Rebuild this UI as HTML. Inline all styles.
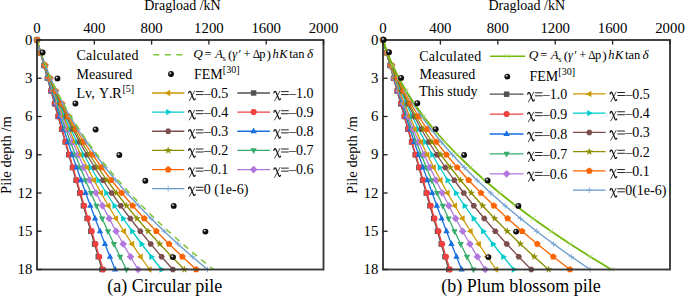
<!DOCTYPE html>
<html><head><meta charset="utf-8"><style>
html,body{margin:0;padding:0;background:#fff;width:685px;height:296px;overflow:hidden;font-family:"Liberation Serif",serif;}
svg{display:block}
</style></head><body>
<svg width="685" height="296" viewBox="0 0 685 296"><defs><radialGradient id="bg" cx="0.38" cy="0.36" r="0.7"><stop offset="0" stop-color="#eee"/><stop offset="0.12" stop-color="#bbb"/><stop offset="0.34" stop-color="#1a1a1a"/><stop offset="1" stop-color="#000"/></radialGradient></defs><rect width="685" height="296" fill="#fff"/><polyline points="37.00,40.00 40.47,52.75 43.95,65.50 47.45,78.25 50.96,91.00 54.50,103.75 58.05,116.50 61.62,129.25 65.20,142.00 68.81,154.75 72.43,167.50 76.06,180.25 79.72,193.00 83.39,205.75 87.08,218.50 90.79,231.25 94.51,244.00 98.25,256.75 102.01,269.50" fill="none" stroke="#515151" stroke-width="1.3"/>
<rect x="34.28" y="37.28" width="5.44" height="5.44" fill="#515151"/>
<rect x="37.75" y="50.03" width="5.44" height="5.44" fill="#515151"/>
<rect x="41.23" y="62.78" width="5.44" height="5.44" fill="#515151"/>
<rect x="44.73" y="75.53" width="5.44" height="5.44" fill="#515151"/>
<rect x="48.24" y="88.28" width="5.44" height="5.44" fill="#515151"/>
<rect x="51.78" y="101.03" width="5.44" height="5.44" fill="#515151"/>
<rect x="55.33" y="113.78" width="5.44" height="5.44" fill="#515151"/>
<rect x="58.90" y="126.53" width="5.44" height="5.44" fill="#515151"/>
<rect x="62.48" y="139.28" width="5.44" height="5.44" fill="#515151"/>
<rect x="66.09" y="152.03" width="5.44" height="5.44" fill="#515151"/>
<rect x="69.71" y="164.78" width="5.44" height="5.44" fill="#515151"/>
<rect x="73.34" y="177.53" width="5.44" height="5.44" fill="#515151"/>
<rect x="77.00" y="190.28" width="5.44" height="5.44" fill="#515151"/>
<rect x="80.67" y="203.03" width="5.44" height="5.44" fill="#515151"/>
<rect x="84.36" y="215.78" width="5.44" height="5.44" fill="#515151"/>
<rect x="88.07" y="228.53" width="5.44" height="5.44" fill="#515151"/>
<rect x="91.79" y="241.28" width="5.44" height="5.44" fill="#515151"/>
<rect x="95.53" y="254.03" width="5.44" height="5.44" fill="#515151"/>
<rect x="99.29" y="266.78" width="5.44" height="5.44" fill="#515151"/>
<polyline points="37.00,40.00 40.53,52.75 44.07,65.50 47.63,78.25 51.21,91.00 54.80,103.75 58.42,116.50 62.05,129.25 65.69,142.00 69.36,154.75 73.04,167.50 76.74,180.25 80.45,193.00 84.19,205.75 87.94,218.50 91.70,231.25 95.49,244.00 99.29,256.75 103.11,269.50" fill="none" stroke="#F14040" stroke-width="1.3"/>
<circle cx="37.00" cy="40.00" r="3.04" fill="#F14040"/>
<circle cx="40.53" cy="52.75" r="3.04" fill="#F14040"/>
<circle cx="44.07" cy="65.50" r="3.04" fill="#F14040"/>
<circle cx="47.63" cy="78.25" r="3.04" fill="#F14040"/>
<circle cx="51.21" cy="91.00" r="3.04" fill="#F14040"/>
<circle cx="54.80" cy="103.75" r="3.04" fill="#F14040"/>
<circle cx="58.42" cy="116.50" r="3.04" fill="#F14040"/>
<circle cx="62.05" cy="129.25" r="3.04" fill="#F14040"/>
<circle cx="65.69" cy="142.00" r="3.04" fill="#F14040"/>
<circle cx="69.36" cy="154.75" r="3.04" fill="#F14040"/>
<circle cx="73.04" cy="167.50" r="3.04" fill="#F14040"/>
<circle cx="76.74" cy="180.25" r="3.04" fill="#F14040"/>
<circle cx="80.45" cy="193.00" r="3.04" fill="#F14040"/>
<circle cx="84.19" cy="205.75" r="3.04" fill="#F14040"/>
<circle cx="87.94" cy="218.50" r="3.04" fill="#F14040"/>
<circle cx="91.70" cy="231.25" r="3.04" fill="#F14040"/>
<circle cx="95.49" cy="244.00" r="3.04" fill="#F14040"/>
<circle cx="99.29" cy="256.75" r="3.04" fill="#F14040"/>
<circle cx="103.11" cy="269.50" r="3.04" fill="#F14040"/>
<polyline points="37.00,40.00 40.53,52.75 44.16,65.50 47.89,78.25 51.71,91.00 55.62,103.75 59.63,116.50 63.74,129.25 67.94,142.00 72.23,154.75 76.62,167.50 81.10,180.25 85.68,193.00 90.36,205.75 95.13,218.50 99.99,231.25 104.95,244.00 110.00,256.75 115.15,269.50" fill="none" stroke="#1A6FDF" stroke-width="1.3"/>
<polygon points="37.00,36.32 40.20,42.08 33.80,42.08" fill="#1A6FDF"/>
<polygon points="40.53,49.07 43.73,54.83 37.33,54.83" fill="#1A6FDF"/>
<polygon points="44.16,61.82 47.36,67.58 40.96,67.58" fill="#1A6FDF"/>
<polygon points="47.89,74.57 51.09,80.33 44.69,80.33" fill="#1A6FDF"/>
<polygon points="51.71,87.32 54.91,93.08 48.51,93.08" fill="#1A6FDF"/>
<polygon points="55.62,100.07 58.82,105.83 52.42,105.83" fill="#1A6FDF"/>
<polygon points="59.63,112.82 62.83,118.58 56.43,118.58" fill="#1A6FDF"/>
<polygon points="63.74,125.57 66.94,131.33 60.54,131.33" fill="#1A6FDF"/>
<polygon points="67.94,138.32 71.14,144.08 64.74,144.08" fill="#1A6FDF"/>
<polygon points="72.23,151.07 75.43,156.83 69.03,156.83" fill="#1A6FDF"/>
<polygon points="76.62,163.82 79.82,169.58 73.42,169.58" fill="#1A6FDF"/>
<polygon points="81.10,176.57 84.30,182.33 77.90,182.33" fill="#1A6FDF"/>
<polygon points="85.68,189.32 88.88,195.08 82.48,195.08" fill="#1A6FDF"/>
<polygon points="90.36,202.07 93.56,207.83 87.16,207.83" fill="#1A6FDF"/>
<polygon points="95.13,214.82 98.33,220.58 91.93,220.58" fill="#1A6FDF"/>
<polygon points="99.99,227.57 103.19,233.33 96.79,233.33" fill="#1A6FDF"/>
<polygon points="104.95,240.32 108.15,246.08 101.75,246.08" fill="#1A6FDF"/>
<polygon points="110.00,253.07 113.20,258.83 106.80,258.83" fill="#1A6FDF"/>
<polygon points="115.15,265.82 118.35,271.58 111.95,271.58" fill="#1A6FDF"/>
<polyline points="37.00,40.00 40.63,52.75 44.41,65.50 48.36,78.25 52.46,91.00 56.72,103.75 61.13,116.50 65.71,129.25 70.44,142.00 75.33,154.75 80.37,167.50 85.58,180.25 90.94,193.00 96.46,205.75 102.14,218.50 107.97,231.25 113.96,244.00 120.11,256.75 126.42,269.50" fill="none" stroke="#37AD6B" stroke-width="1.3"/>
<polygon points="37.00,43.68 40.20,37.92 33.80,37.92" fill="#37AD6B"/>
<polygon points="40.63,56.43 43.83,50.67 37.43,50.67" fill="#37AD6B"/>
<polygon points="44.41,69.18 47.61,63.42 41.21,63.42" fill="#37AD6B"/>
<polygon points="48.36,81.93 51.56,76.17 45.16,76.17" fill="#37AD6B"/>
<polygon points="52.46,94.68 55.66,88.92 49.26,88.92" fill="#37AD6B"/>
<polygon points="56.72,107.43 59.92,101.67 53.52,101.67" fill="#37AD6B"/>
<polygon points="61.13,120.18 64.33,114.42 57.93,114.42" fill="#37AD6B"/>
<polygon points="65.71,132.93 68.91,127.17 62.51,127.17" fill="#37AD6B"/>
<polygon points="70.44,145.68 73.64,139.92 67.24,139.92" fill="#37AD6B"/>
<polygon points="75.33,158.43 78.53,152.67 72.13,152.67" fill="#37AD6B"/>
<polygon points="80.37,171.18 83.57,165.42 77.17,165.42" fill="#37AD6B"/>
<polygon points="85.58,183.93 88.78,178.17 82.38,178.17" fill="#37AD6B"/>
<polygon points="90.94,196.68 94.14,190.92 87.74,190.92" fill="#37AD6B"/>
<polygon points="96.46,209.43 99.66,203.67 93.26,203.67" fill="#37AD6B"/>
<polygon points="102.14,222.18 105.34,216.42 98.94,216.42" fill="#37AD6B"/>
<polygon points="107.97,234.93 111.17,229.17 104.77,229.17" fill="#37AD6B"/>
<polygon points="113.96,247.68 117.16,241.92 110.76,241.92" fill="#37AD6B"/>
<polygon points="120.11,260.43 123.31,254.67 116.91,254.67" fill="#37AD6B"/>
<polygon points="126.42,273.18 129.62,267.42 123.22,267.42" fill="#37AD6B"/>
<polyline points="37.00,40.00 40.66,52.75 44.56,65.50 48.68,78.25 53.03,91.00 57.62,103.75 62.43,116.50 67.47,129.25 72.74,142.00 78.24,154.75 83.98,167.50 89.94,180.25 96.13,193.00 102.55,205.75 109.20,218.50 116.08,231.25 123.19,244.00 130.53,256.75 138.09,269.50" fill="none" stroke="#B177DE" stroke-width="1.3"/>
<polygon points="37.00,36.16 40.84,40.00 37.00,43.84 33.16,40.00" fill="#B177DE"/>
<polygon points="40.66,48.91 44.50,52.75 40.66,56.59 36.82,52.75" fill="#B177DE"/>
<polygon points="44.56,61.66 48.40,65.50 44.56,69.34 40.72,65.50" fill="#B177DE"/>
<polygon points="48.68,74.41 52.52,78.25 48.68,82.09 44.84,78.25" fill="#B177DE"/>
<polygon points="53.03,87.16 56.87,91.00 53.03,94.84 49.19,91.00" fill="#B177DE"/>
<polygon points="57.62,99.91 61.46,103.75 57.62,107.59 53.78,103.75" fill="#B177DE"/>
<polygon points="62.43,112.66 66.27,116.50 62.43,120.34 58.59,116.50" fill="#B177DE"/>
<polygon points="67.47,125.41 71.31,129.25 67.47,133.09 63.63,129.25" fill="#B177DE"/>
<polygon points="72.74,138.16 76.58,142.00 72.74,145.84 68.90,142.00" fill="#B177DE"/>
<polygon points="78.24,150.91 82.08,154.75 78.24,158.59 74.40,154.75" fill="#B177DE"/>
<polygon points="83.98,163.66 87.82,167.50 83.98,171.34 80.14,167.50" fill="#B177DE"/>
<polygon points="89.94,176.41 93.78,180.25 89.94,184.09 86.10,180.25" fill="#B177DE"/>
<polygon points="96.13,189.16 99.97,193.00 96.13,196.84 92.29,193.00" fill="#B177DE"/>
<polygon points="102.55,201.91 106.39,205.75 102.55,209.59 98.71,205.75" fill="#B177DE"/>
<polygon points="109.20,214.66 113.04,218.50 109.20,222.34 105.36,218.50" fill="#B177DE"/>
<polygon points="116.08,227.41 119.92,231.25 116.08,235.09 112.24,231.25" fill="#B177DE"/>
<polygon points="123.19,240.16 127.03,244.00 123.19,247.84 119.35,244.00" fill="#B177DE"/>
<polygon points="130.53,252.91 134.37,256.75 130.53,260.59 126.69,256.75" fill="#B177DE"/>
<polygon points="138.09,265.66 141.93,269.50 138.09,273.34 134.25,269.50" fill="#B177DE"/>
<polyline points="37.00,40.00 40.66,52.75 44.62,65.50 48.89,78.25 53.46,91.00 58.34,103.75 63.52,116.50 69.01,129.25 74.80,142.00 80.90,154.75 87.30,167.50 94.00,180.25 101.01,193.00 108.33,205.75 115.95,218.50 123.87,231.25 132.10,244.00 140.63,256.75 149.47,269.50" fill="none" stroke="#CC9900" stroke-width="1.3"/>
<polygon points="33.32,40.00 39.08,36.80 39.08,43.20" fill="#CC9900"/>
<polygon points="36.98,52.75 42.74,49.55 42.74,55.95" fill="#CC9900"/>
<polygon points="40.94,65.50 46.70,62.30 46.70,68.70" fill="#CC9900"/>
<polygon points="45.21,78.25 50.97,75.05 50.97,81.45" fill="#CC9900"/>
<polygon points="49.78,91.00 55.54,87.80 55.54,94.20" fill="#CC9900"/>
<polygon points="54.66,103.75 60.42,100.55 60.42,106.95" fill="#CC9900"/>
<polygon points="59.84,116.50 65.60,113.30 65.60,119.70" fill="#CC9900"/>
<polygon points="65.33,129.25 71.09,126.05 71.09,132.45" fill="#CC9900"/>
<polygon points="71.12,142.00 76.88,138.80 76.88,145.20" fill="#CC9900"/>
<polygon points="77.22,154.75 82.98,151.55 82.98,157.95" fill="#CC9900"/>
<polygon points="83.62,167.50 89.38,164.30 89.38,170.70" fill="#CC9900"/>
<polygon points="90.32,180.25 96.08,177.05 96.08,183.45" fill="#CC9900"/>
<polygon points="97.33,193.00 103.09,189.80 103.09,196.20" fill="#CC9900"/>
<polygon points="104.65,205.75 110.41,202.55 110.41,208.95" fill="#CC9900"/>
<polygon points="112.27,218.50 118.03,215.30 118.03,221.70" fill="#CC9900"/>
<polygon points="120.19,231.25 125.95,228.05 125.95,234.45" fill="#CC9900"/>
<polygon points="128.42,244.00 134.18,240.80 134.18,247.20" fill="#CC9900"/>
<polygon points="136.95,256.75 142.71,253.55 142.71,259.95" fill="#CC9900"/>
<polygon points="145.79,269.50 151.55,266.30 151.55,272.70" fill="#CC9900"/>
<polyline points="37.00,40.00 40.68,52.75 44.75,65.50 49.19,78.25 54.02,91.00 59.23,103.75 64.81,116.50 70.78,129.25 77.13,142.00 83.86,154.75 90.97,167.50 98.46,180.25 106.33,193.00 114.58,205.75 123.21,218.50 132.23,231.25 141.62,244.00 151.39,256.75 161.55,269.50" fill="none" stroke="#00CBCC" stroke-width="1.3"/>
<polygon points="40.68,40.00 34.92,36.80 34.92,43.20" fill="#00CBCC"/>
<polygon points="44.36,52.75 38.60,49.55 38.60,55.95" fill="#00CBCC"/>
<polygon points="48.43,65.50 42.67,62.30 42.67,68.70" fill="#00CBCC"/>
<polygon points="52.87,78.25 47.11,75.05 47.11,81.45" fill="#00CBCC"/>
<polygon points="57.70,91.00 51.94,87.80 51.94,94.20" fill="#00CBCC"/>
<polygon points="62.91,103.75 57.15,100.55 57.15,106.95" fill="#00CBCC"/>
<polygon points="68.49,116.50 62.73,113.30 62.73,119.70" fill="#00CBCC"/>
<polygon points="74.46,129.25 68.70,126.05 68.70,132.45" fill="#00CBCC"/>
<polygon points="80.81,142.00 75.05,138.80 75.05,145.20" fill="#00CBCC"/>
<polygon points="87.54,154.75 81.78,151.55 81.78,157.95" fill="#00CBCC"/>
<polygon points="94.65,167.50 88.89,164.30 88.89,170.70" fill="#00CBCC"/>
<polygon points="102.14,180.25 96.38,177.05 96.38,183.45" fill="#00CBCC"/>
<polygon points="110.01,193.00 104.25,189.80 104.25,196.20" fill="#00CBCC"/>
<polygon points="118.26,205.75 112.50,202.55 112.50,208.95" fill="#00CBCC"/>
<polygon points="126.89,218.50 121.13,215.30 121.13,221.70" fill="#00CBCC"/>
<polygon points="135.91,231.25 130.15,228.05 130.15,234.45" fill="#00CBCC"/>
<polygon points="145.30,244.00 139.54,240.80 139.54,247.20" fill="#00CBCC"/>
<polygon points="155.07,256.75 149.31,253.55 149.31,259.95" fill="#00CBCC"/>
<polygon points="165.23,269.50 159.47,266.30 159.47,272.70" fill="#00CBCC"/>
<polyline points="37.00,40.00 40.78,52.75 45.00,65.50 49.66,78.25 54.77,91.00 60.32,103.75 66.32,116.50 72.76,129.25 79.64,142.00 86.97,154.75 94.74,167.50 102.96,180.25 111.62,193.00 120.73,205.75 130.28,218.50 140.27,231.25 150.71,244.00 161.59,256.75 172.92,269.50" fill="none" stroke="#7D4E4E" stroke-width="1.3"/>
<polygon points="40.20,40.00 38.60,42.77 35.40,42.77 33.80,40.00 35.40,37.23 38.60,37.23" fill="#7D4E4E"/>
<polygon points="43.98,52.75 42.38,55.52 39.18,55.52 37.58,52.75 39.18,49.98 42.38,49.98" fill="#7D4E4E"/>
<polygon points="48.20,65.50 46.60,68.27 43.40,68.27 41.80,65.50 43.40,62.73 46.60,62.73" fill="#7D4E4E"/>
<polygon points="52.86,78.25 51.26,81.02 48.06,81.02 46.46,78.25 48.06,75.48 51.26,75.48" fill="#7D4E4E"/>
<polygon points="57.97,91.00 56.37,93.77 53.17,93.77 51.57,91.00 53.17,88.23 56.37,88.23" fill="#7D4E4E"/>
<polygon points="63.52,103.75 61.92,106.52 58.72,106.52 57.12,103.75 58.72,100.98 61.92,100.98" fill="#7D4E4E"/>
<polygon points="69.52,116.50 67.92,119.27 64.72,119.27 63.12,116.50 64.72,113.73 67.92,113.73" fill="#7D4E4E"/>
<polygon points="75.96,129.25 74.36,132.02 71.16,132.02 69.56,129.25 71.16,126.48 74.36,126.48" fill="#7D4E4E"/>
<polygon points="82.84,142.00 81.24,144.77 78.04,144.77 76.44,142.00 78.04,139.23 81.24,139.23" fill="#7D4E4E"/>
<polygon points="90.17,154.75 88.57,157.52 85.37,157.52 83.77,154.75 85.37,151.98 88.57,151.98" fill="#7D4E4E"/>
<polygon points="97.94,167.50 96.34,170.27 93.14,170.27 91.54,167.50 93.14,164.73 96.34,164.73" fill="#7D4E4E"/>
<polygon points="106.16,180.25 104.56,183.02 101.36,183.02 99.76,180.25 101.36,177.48 104.56,177.48" fill="#7D4E4E"/>
<polygon points="114.82,193.00 113.22,195.77 110.02,195.77 108.42,193.00 110.02,190.23 113.22,190.23" fill="#7D4E4E"/>
<polygon points="123.93,205.75 122.33,208.52 119.13,208.52 117.53,205.75 119.13,202.98 122.33,202.98" fill="#7D4E4E"/>
<polygon points="133.48,218.50 131.88,221.27 128.68,221.27 127.08,218.50 128.68,215.73 131.88,215.73" fill="#7D4E4E"/>
<polygon points="143.47,231.25 141.87,234.02 138.67,234.02 137.07,231.25 138.67,228.48 141.87,228.48" fill="#7D4E4E"/>
<polygon points="153.91,244.00 152.31,246.77 149.11,246.77 147.51,244.00 149.11,241.23 152.31,241.23" fill="#7D4E4E"/>
<polygon points="164.79,256.75 163.19,259.52 159.99,259.52 158.39,256.75 159.99,253.98 163.19,253.98" fill="#7D4E4E"/>
<polygon points="176.12,269.50 174.52,272.27 171.32,272.27 169.72,269.50 171.32,266.73 174.52,266.73" fill="#7D4E4E"/>
<polyline points="37.00,40.00 40.75,52.75 45.03,65.50 49.83,78.25 55.15,91.00 60.99,103.75 67.35,116.50 74.24,129.25 81.65,142.00 89.58,154.75 98.03,167.50 107.00,180.25 116.50,193.00 126.52,205.75 137.06,218.50 148.12,231.25 159.71,244.00 171.81,256.75 184.44,269.50" fill="none" stroke="#8E8E00" stroke-width="1.3"/>
<polygon points="37.00,36.00 37.94,38.71 40.80,38.76 38.52,40.49 39.35,43.24 37.00,41.60 34.65,43.24 35.48,40.49 33.20,38.76 36.06,38.71" fill="#8E8E00"/>
<polygon points="40.75,48.75 41.69,51.46 44.56,51.51 42.28,53.24 43.10,55.99 40.75,54.35 38.40,55.99 39.23,53.24 36.95,51.51 39.81,51.46" fill="#8E8E00"/>
<polygon points="45.03,61.50 45.97,64.21 48.83,64.26 46.55,65.99 47.38,68.74 45.03,67.10 42.68,68.74 43.51,65.99 41.22,64.26 44.09,64.21" fill="#8E8E00"/>
<polygon points="49.83,74.25 50.77,76.96 53.63,77.01 51.35,78.74 52.18,81.49 49.83,79.85 47.48,81.49 48.30,78.74 46.02,77.01 48.89,76.96" fill="#8E8E00"/>
<polygon points="55.15,87.00 56.09,89.71 58.95,89.76 56.67,91.49 57.50,94.24 55.15,92.60 52.80,94.24 53.62,91.49 51.34,89.76 54.21,89.71" fill="#8E8E00"/>
<polygon points="60.99,99.75 61.93,102.46 64.79,102.51 62.51,104.24 63.34,106.99 60.99,105.35 58.64,106.99 59.47,104.24 57.18,102.51 60.05,102.46" fill="#8E8E00"/>
<polygon points="67.35,112.50 68.29,115.21 71.16,115.26 68.87,116.99 69.70,119.74 67.35,118.10 65.00,119.74 65.83,116.99 63.55,115.26 66.41,115.21" fill="#8E8E00"/>
<polygon points="74.24,125.25 75.18,127.96 78.04,128.01 75.76,129.74 76.59,132.49 74.24,130.85 71.89,132.49 72.72,129.74 70.43,128.01 73.30,127.96" fill="#8E8E00"/>
<polygon points="81.65,138.00 82.59,140.71 85.45,140.76 83.17,142.49 84.00,145.24 81.65,143.60 79.30,145.24 80.12,142.49 77.84,140.76 80.71,140.71" fill="#8E8E00"/>
<polygon points="89.58,150.75 90.52,153.46 93.38,153.51 91.10,155.24 91.93,157.99 89.58,156.35 87.23,157.99 88.05,155.24 85.77,153.51 88.64,153.46" fill="#8E8E00"/>
<polygon points="98.03,163.50 98.97,166.21 101.83,166.26 99.55,167.99 100.38,170.74 98.03,169.10 95.68,170.74 96.51,167.99 94.22,166.26 97.09,166.21" fill="#8E8E00"/>
<polygon points="107.00,176.25 107.94,178.96 110.81,179.01 108.53,180.74 109.35,183.49 107.00,181.85 104.65,183.49 105.48,180.74 103.20,179.01 106.06,178.96" fill="#8E8E00"/>
<polygon points="116.50,189.00 117.44,191.71 120.30,191.76 118.02,193.49 118.85,196.24 116.50,194.60 114.15,196.24 114.98,193.49 112.70,191.76 115.56,191.71" fill="#8E8E00"/>
<polygon points="126.52,201.75 127.46,204.46 130.32,204.51 128.04,206.24 128.87,208.99 126.52,207.35 124.17,208.99 125.00,206.24 122.71,204.51 125.58,204.46" fill="#8E8E00"/>
<polygon points="137.06,214.50 138.00,217.21 140.86,217.26 138.58,218.99 139.41,221.74 137.06,220.10 134.71,221.74 135.54,218.99 133.26,217.26 136.12,217.21" fill="#8E8E00"/>
<polygon points="148.12,227.25 149.06,229.96 151.93,230.01 149.64,231.74 150.47,234.49 148.12,232.85 145.77,234.49 146.60,231.74 144.32,230.01 147.18,229.96" fill="#8E8E00"/>
<polygon points="159.71,240.00 160.65,242.71 163.51,242.76 161.23,244.49 162.06,247.24 159.71,245.60 157.36,247.24 158.19,244.49 155.90,242.76 158.77,242.71" fill="#8E8E00"/>
<polygon points="171.81,252.75 172.75,255.46 175.62,255.51 173.34,257.24 174.17,259.99 171.81,258.35 169.46,259.99 170.29,257.24 168.01,255.51 170.87,255.46" fill="#8E8E00"/>
<polygon points="184.44,265.50 185.38,268.21 188.25,268.26 185.97,269.99 186.79,272.74 184.44,271.10 182.09,272.74 182.92,269.99 180.64,268.26 183.50,268.21" fill="#8E8E00"/>
<polyline points="37.00,40.00 40.80,52.75 45.19,65.50 50.18,78.25 55.76,91.00 61.93,103.75 68.70,116.50 76.06,129.25 84.02,142.00 92.57,154.75 101.71,167.50 111.45,180.25 121.78,193.00 132.71,205.75 144.23,218.50 156.35,231.25 169.06,244.00 182.36,256.75 196.26,269.50" fill="none" stroke="#FB6501" stroke-width="1.3"/>
<polygon points="37.00,36.48 40.35,38.91 39.07,42.85 34.93,42.85 33.65,38.91" fill="#FB6501"/>
<polygon points="40.80,49.23 44.15,51.66 42.87,55.60 38.73,55.60 37.45,51.66" fill="#FB6501"/>
<polygon points="45.19,61.98 48.54,64.41 47.26,68.35 43.12,68.35 41.84,64.41" fill="#FB6501"/>
<polygon points="50.18,74.73 53.52,77.16 52.24,81.10 48.11,81.10 46.83,77.16" fill="#FB6501"/>
<polygon points="55.76,87.48 59.10,89.91 57.82,93.85 53.69,93.85 52.41,89.91" fill="#FB6501"/>
<polygon points="61.93,100.23 65.28,102.66 64.00,106.60 59.86,106.60 58.58,102.66" fill="#FB6501"/>
<polygon points="68.70,112.98 72.05,115.41 70.77,119.35 66.63,119.35 65.35,115.41" fill="#FB6501"/>
<polygon points="76.06,125.73 79.41,128.16 78.13,132.10 73.99,132.10 72.71,128.16" fill="#FB6501"/>
<polygon points="84.02,138.48 87.36,140.91 86.09,144.85 81.95,144.85 80.67,140.91" fill="#FB6501"/>
<polygon points="92.57,151.23 95.92,153.66 94.64,157.60 90.50,157.60 89.22,153.66" fill="#FB6501"/>
<polygon points="101.71,163.98 105.06,166.41 103.78,170.35 99.64,170.35 98.36,166.41" fill="#FB6501"/>
<polygon points="111.45,176.73 114.80,179.16 113.52,183.10 109.38,183.10 108.10,179.16" fill="#FB6501"/>
<polygon points="121.78,189.48 125.13,191.91 123.85,195.85 119.71,195.85 118.44,191.91" fill="#FB6501"/>
<polygon points="132.71,202.23 136.06,204.66 134.78,208.60 130.64,208.60 129.36,204.66" fill="#FB6501"/>
<polygon points="144.23,214.98 147.58,217.41 146.30,221.35 142.16,221.35 140.88,217.41" fill="#FB6501"/>
<polygon points="156.35,227.73 159.69,230.16 158.42,234.10 154.28,234.10 153.00,230.16" fill="#FB6501"/>
<polygon points="169.06,240.48 172.40,242.91 171.13,246.85 166.99,246.85 165.71,242.91" fill="#FB6501"/>
<polygon points="182.36,253.23 185.71,255.66 184.43,259.60 180.29,259.60 179.01,255.66" fill="#FB6501"/>
<polygon points="196.26,265.98 199.60,268.41 198.33,272.35 194.19,272.35 192.91,268.41" fill="#FB6501"/>
<polyline points="37.00,40.00 40.85,52.75 45.36,65.50 50.53,78.25 56.37,91.00 62.86,103.75 70.02,116.50 77.84,129.25 86.32,142.00 95.46,154.75 105.27,167.50 115.73,180.25 126.86,193.00 138.64,205.75 151.09,218.50 164.20,231.25 177.97,244.00 192.40,256.75 207.50,269.50" fill="none" stroke="#6699CC" stroke-width="1.3"/>
<path d="M34.12 40.00H39.88M37.00 37.12V42.88" stroke="#7AA3D6" stroke-width="0.8" fill="none"/>
<path d="M37.97 52.75H43.73M40.85 49.87V55.63" stroke="#7AA3D6" stroke-width="0.8" fill="none"/>
<path d="M42.48 65.50H48.24M45.36 62.62V68.38" stroke="#7AA3D6" stroke-width="0.8" fill="none"/>
<path d="M47.65 78.25H53.41M50.53 75.37V81.13" stroke="#7AA3D6" stroke-width="0.8" fill="none"/>
<path d="M53.49 91.00H59.25M56.37 88.12V93.88" stroke="#7AA3D6" stroke-width="0.8" fill="none"/>
<path d="M59.98 103.75H65.74M62.86 100.87V106.63" stroke="#7AA3D6" stroke-width="0.8" fill="none"/>
<path d="M67.14 116.50H72.90M70.02 113.62V119.38" stroke="#7AA3D6" stroke-width="0.8" fill="none"/>
<path d="M74.96 129.25H80.72M77.84 126.37V132.13" stroke="#7AA3D6" stroke-width="0.8" fill="none"/>
<path d="M83.44 142.00H89.20M86.32 139.12V144.88" stroke="#7AA3D6" stroke-width="0.8" fill="none"/>
<path d="M92.58 154.75H98.34M95.46 151.87V157.63" stroke="#7AA3D6" stroke-width="0.8" fill="none"/>
<path d="M102.39 167.50H108.14M105.27 164.62V170.38" stroke="#7AA3D6" stroke-width="0.8" fill="none"/>
<path d="M112.85 180.25H118.61M115.73 177.37V183.13" stroke="#7AA3D6" stroke-width="0.8" fill="none"/>
<path d="M123.98 193.00H129.74M126.86 190.12V195.88" stroke="#7AA3D6" stroke-width="0.8" fill="none"/>
<path d="M135.76 205.75H141.52M138.64 202.87V208.63" stroke="#7AA3D6" stroke-width="0.8" fill="none"/>
<path d="M148.21 218.50H153.97M151.09 215.62V221.38" stroke="#7AA3D6" stroke-width="0.8" fill="none"/>
<path d="M161.32 231.25H167.08M164.20 228.37V234.13" stroke="#7AA3D6" stroke-width="0.8" fill="none"/>
<path d="M175.09 244.00H180.85M177.97 241.12V246.88" stroke="#7AA3D6" stroke-width="0.8" fill="none"/>
<path d="M189.52 256.75H195.28M192.40 253.87V259.63" stroke="#7AA3D6" stroke-width="0.8" fill="none"/>
<path d="M204.62 269.50H210.38M207.50 266.62V272.38" stroke="#7AA3D6" stroke-width="0.8" fill="none"/>
<polyline points="37.00,40.00 40.90,52.75 45.50,65.50 50.79,78.25 56.78,91.00 63.46,103.75 70.83,116.50 78.89,129.25 87.65,142.00 97.11,154.75 107.25,167.50 118.09,180.25 129.62,193.00 141.85,205.75 154.77,218.50 168.39,231.25 182.69,244.00 197.69,256.75 213.39,269.50" fill="none" stroke="#7CC834" stroke-width="1.5" stroke-dasharray="6.2 5.4"/>
<circle cx="42.60" cy="52.50" r="2.95" fill="url(#bg)"/>
<circle cx="57.40" cy="78.40" r="2.95" fill="url(#bg)"/>
<circle cx="75.40" cy="103.50" r="2.95" fill="url(#bg)"/>
<circle cx="95.60" cy="129.50" r="2.95" fill="url(#bg)"/>
<circle cx="119.30" cy="155.00" r="2.95" fill="url(#bg)"/>
<circle cx="145.30" cy="180.80" r="2.95" fill="url(#bg)"/>
<circle cx="173.70" cy="205.90" r="2.95" fill="url(#bg)"/>
<circle cx="205.40" cy="231.60" r="2.95" fill="url(#bg)"/>
<circle cx="173.00" cy="257.10" r="2.95" fill="url(#bg)"/>
<rect x="37.00" y="40.00" width="286.50" height="229.50" fill="none" stroke="#3a3a3a" stroke-width="1.9"/>
<line x1="37.00" y1="40.0" x2="37.00" y2="44.6" stroke="#222" stroke-width="1.3"/>
<text x="37.00" y="32.6" font-family="Liberation Serif, serif" font-size="14.8" text-anchor="middle" fill="#000">0</text>
<line x1="94.30" y1="40.0" x2="94.30" y2="44.6" stroke="#222" stroke-width="1.3"/>
<text x="94.30" y="32.6" font-family="Liberation Serif, serif" font-size="14.8" text-anchor="middle" fill="#000">400</text>
<line x1="151.60" y1="40.0" x2="151.60" y2="44.6" stroke="#222" stroke-width="1.3"/>
<text x="151.60" y="32.6" font-family="Liberation Serif, serif" font-size="14.8" text-anchor="middle" fill="#000">800</text>
<line x1="208.90" y1="40.0" x2="208.90" y2="44.6" stroke="#222" stroke-width="1.3"/>
<text x="208.90" y="32.6" font-family="Liberation Serif, serif" font-size="14.8" text-anchor="middle" fill="#000">1200</text>
<line x1="266.20" y1="40.0" x2="266.20" y2="44.6" stroke="#222" stroke-width="1.3"/>
<text x="266.20" y="32.6" font-family="Liberation Serif, serif" font-size="14.8" text-anchor="middle" fill="#000">1600</text>
<line x1="323.50" y1="40.0" x2="323.50" y2="44.6" stroke="#222" stroke-width="1.3"/>
<text x="323.50" y="32.6" font-family="Liberation Serif, serif" font-size="14.8" text-anchor="middle" fill="#000">2000</text>
<line x1="37.0" y1="40.00" x2="41.6" y2="40.00" stroke="#222" stroke-width="1.3"/>
<text x="32.40" y="44.60" font-family="Liberation Serif, serif" font-size="14.8" text-anchor="end" fill="#000">0</text>
<line x1="37.0" y1="78.25" x2="41.6" y2="78.25" stroke="#222" stroke-width="1.3"/>
<text x="32.40" y="82.85" font-family="Liberation Serif, serif" font-size="14.8" text-anchor="end" fill="#000">3</text>
<line x1="37.0" y1="116.50" x2="41.6" y2="116.50" stroke="#222" stroke-width="1.3"/>
<text x="32.40" y="121.10" font-family="Liberation Serif, serif" font-size="14.8" text-anchor="end" fill="#000">6</text>
<line x1="37.0" y1="154.75" x2="41.6" y2="154.75" stroke="#222" stroke-width="1.3"/>
<text x="32.40" y="159.35" font-family="Liberation Serif, serif" font-size="14.8" text-anchor="end" fill="#000">9</text>
<line x1="37.0" y1="193.00" x2="41.6" y2="193.00" stroke="#222" stroke-width="1.3"/>
<text x="32.40" y="197.60" font-family="Liberation Serif, serif" font-size="14.8" text-anchor="end" fill="#000">12</text>
<line x1="37.0" y1="231.25" x2="41.6" y2="231.25" stroke="#222" stroke-width="1.3"/>
<text x="32.40" y="235.85" font-family="Liberation Serif, serif" font-size="14.8" text-anchor="end" fill="#000">15</text>
<line x1="37.0" y1="269.50" x2="41.6" y2="269.50" stroke="#222" stroke-width="1.3"/>
<text x="32.40" y="274.10" font-family="Liberation Serif, serif" font-size="14.8" text-anchor="end" fill="#000">18</text>
<text x="182.45" y="10.2" font-family="Liberation Serif, serif" font-size="14" text-anchor="middle" fill="#000">Dragload /kN</text>
<text transform="translate(11.40,155.05) rotate(-90)" font-family="Liberation Serif, serif" font-size="14.6" text-anchor="middle" fill="#000">Pile depth /m</text><text x="76.4" y="59.9" font-family="Liberation Serif, serif" font-size="14" letter-spacing="0.25">Calculated</text>
<text x="76.4" y="78.5" font-family="Liberation Serif, serif" font-size="14" letter-spacing="0.1">Measured</text>
<text y="97.5" font-family="Liberation Serif, serif" font-size="14"><tspan x="76.5">Lv,</tspan><tspan x="98.9">Y</tspan><tspan x="108.9">.</tspan><tspan x="111.9" font-size="14.8">R</tspan><tspan x="122.4" font-size="10" dy="-5.1">[5]</tspan></text>
<line x1="153.3" y1="54.70" x2="183.1" y2="54.70" stroke="#7CC834" stroke-width="1.5" stroke-dasharray="6 5.5"/>
<g fill="#000"><text x="193.17" y="58.10" font-family="Liberation Serif, serif" font-size="13.3" font-style="italic">Q</text><text x="204.47" y="58.10" font-family="Liberation Serif, serif" font-size="12.5">=</text><text x="215.34" y="58.10" font-family="Liberation Serif, serif" font-size="12.5" font-style="italic">A</text><text x="222.50" y="60.70" font-family="Liberation Serif, serif" font-size="8.5">s</text><text x="228.11" y="58.70" font-family="Liberation Serif, serif" font-size="13.5">(</text><text x="232.28" y="58.10" font-family="Liberation Serif, serif" font-size="12.5" font-style="italic">γ</text><text x="238.49" y="58.10" font-family="Liberation Serif, serif" font-size="12.5">′</text><text x="243.48" y="58.10" font-family="Liberation Serif, serif" font-size="12.5">+</text><text x="252.66" y="58.10" font-family="Liberation Serif, serif" font-size="11.6">Δ</text><text x="259.30" y="58.10" font-family="Liberation Serif, serif" font-size="12.5">p</text><text x="266.52" y="58.70" font-family="Liberation Serif, serif" font-size="13.5">)</text><text x="272.60" y="58.10" font-family="Liberation Serif, serif" font-size="12.5" font-style="italic">h</text><text x="279.30" y="58.10" font-family="Liberation Serif, serif" font-size="12.5" font-style="italic">K</text><text x="289.27" y="58.10" font-family="Liberation Serif, serif" font-size="12.5">tan</text><text x="306.92" y="58.10" font-family="Liberation Serif, serif" font-size="13.2" font-style="italic">δ</text></g>
<circle cx="171.00" cy="74.00" r="2.95" fill="url(#bg)"/>
<text x="194.0" y="78.6" font-family="Liberation Serif, serif" font-size="14">FEM<tspan font-size="10" dy="-5.5">[30]</tspan></text>
<line x1="152.10" y1="92.98" x2="184.30" y2="92.98" stroke="#CC9900" stroke-width="1.3"/><polygon points="164.52,92.98 170.28,89.78 170.28,96.18" fill="#CC9900"/><g transform="translate(188.30,97.88)" fill="none" stroke="#111" stroke-linecap="round"><path d="M0.3,-5.0 C0.6,-6.4 1.5,-7.1 2.3,-6.0 L5.3,1.3 C5.7,2.2 6.4,2.0 6.9,0.9" stroke-width="1.25"/><path d="M6.3,-6.8 L1.0,2.9" stroke-width="0.75"/></g><path d="M195.80,91.58H203.40M195.80,94.58H203.40" stroke="#262626" stroke-width="1.0" fill="none"/><text x="203.70" y="97.88" font-family="Liberation Serif, serif" font-size="14" fill="#000"><tspan fill="#333">–</tspan>0.5</text>
<line x1="152.10" y1="112.12" x2="184.30" y2="112.12" stroke="#00CBCC" stroke-width="1.3"/><polygon points="171.88,112.12 166.12,108.92 166.12,115.32" fill="#00CBCC"/><g transform="translate(188.30,117.02)" fill="none" stroke="#111" stroke-linecap="round"><path d="M0.3,-5.0 C0.6,-6.4 1.5,-7.1 2.3,-6.0 L5.3,1.3 C5.7,2.2 6.4,2.0 6.9,0.9" stroke-width="1.25"/><path d="M6.3,-6.8 L1.0,2.9" stroke-width="0.75"/></g><path d="M195.80,110.72H203.40M195.80,113.72H203.40" stroke="#262626" stroke-width="1.0" fill="none"/><text x="203.70" y="117.02" font-family="Liberation Serif, serif" font-size="14" fill="#000"><tspan fill="#333">–</tspan>0.4</text>
<line x1="152.10" y1="131.26" x2="184.30" y2="131.26" stroke="#7D4E4E" stroke-width="1.3"/><polygon points="171.40,131.26 169.80,134.03 166.60,134.03 165.00,131.26 166.60,128.49 169.80,128.49" fill="#7D4E4E"/><g transform="translate(188.30,136.16)" fill="none" stroke="#111" stroke-linecap="round"><path d="M0.3,-5.0 C0.6,-6.4 1.5,-7.1 2.3,-6.0 L5.3,1.3 C5.7,2.2 6.4,2.0 6.9,0.9" stroke-width="1.25"/><path d="M6.3,-6.8 L1.0,2.9" stroke-width="0.75"/></g><path d="M195.80,129.86H203.40M195.80,132.86H203.40" stroke="#262626" stroke-width="1.0" fill="none"/><text x="203.70" y="136.16" font-family="Liberation Serif, serif" font-size="14" fill="#000"><tspan fill="#333">–</tspan>0.3</text>
<line x1="152.10" y1="150.40" x2="184.30" y2="150.40" stroke="#8E8E00" stroke-width="1.3"/><polygon points="168.20,146.40 169.14,149.11 172.00,149.16 169.72,150.89 170.55,153.64 168.20,152.00 165.85,153.64 166.68,150.89 164.40,149.16 167.26,149.11" fill="#8E8E00"/><g transform="translate(188.30,155.30)" fill="none" stroke="#111" stroke-linecap="round"><path d="M0.3,-5.0 C0.6,-6.4 1.5,-7.1 2.3,-6.0 L5.3,1.3 C5.7,2.2 6.4,2.0 6.9,0.9" stroke-width="1.25"/><path d="M6.3,-6.8 L1.0,2.9" stroke-width="0.75"/></g><path d="M195.80,149.00H203.40M195.80,152.00H203.40" stroke="#262626" stroke-width="1.0" fill="none"/><text x="203.70" y="155.30" font-family="Liberation Serif, serif" font-size="14" fill="#000"><tspan fill="#333">–</tspan>0.2</text>
<line x1="152.10" y1="169.54" x2="184.30" y2="169.54" stroke="#FB6501" stroke-width="1.3"/><polygon points="168.20,166.02 171.55,168.45 170.27,172.39 166.13,172.39 164.85,168.45" fill="#FB6501"/><g transform="translate(188.30,174.44)" fill="none" stroke="#111" stroke-linecap="round"><path d="M0.3,-5.0 C0.6,-6.4 1.5,-7.1 2.3,-6.0 L5.3,1.3 C5.7,2.2 6.4,2.0 6.9,0.9" stroke-width="1.25"/><path d="M6.3,-6.8 L1.0,2.9" stroke-width="0.75"/></g><path d="M195.80,168.14H203.40M195.80,171.14H203.40" stroke="#262626" stroke-width="1.0" fill="none"/><text x="203.70" y="174.44" font-family="Liberation Serif, serif" font-size="14" fill="#000"><tspan fill="#333">–</tspan>0.1</text>
<line x1="152.10" y1="188.68" x2="184.30" y2="188.68" stroke="#6699CC" stroke-width="1.3"/><path d="M165.32 188.68H171.08M168.20 185.80V191.56" stroke="#7AA3D6" stroke-width="0.8" fill="none"/><g transform="translate(188.30,193.58)" fill="none" stroke="#111" stroke-linecap="round"><path d="M0.3,-5.0 C0.6,-6.4 1.5,-7.1 2.3,-6.0 L5.3,1.3 C5.7,2.2 6.4,2.0 6.9,0.9" stroke-width="1.25"/><path d="M6.3,-6.8 L1.0,2.9" stroke-width="0.75"/></g><path d="M195.80,187.28H203.40M195.80,190.28H203.40" stroke="#262626" stroke-width="1.0" fill="none"/><text x="203.70" y="193.58" font-family="Liberation Serif, serif" font-size="14" fill="#000">0 (1e-6)</text>
<line x1="237.30" y1="92.98" x2="270.00" y2="92.98" stroke="#515151" stroke-width="1.3"/><rect x="250.88" y="90.26" width="5.44" height="5.44" fill="#515151"/><g transform="translate(273.60,97.88)" fill="none" stroke="#111" stroke-linecap="round"><path d="M0.3,-5.0 C0.6,-6.4 1.5,-7.1 2.3,-6.0 L5.3,1.3 C5.7,2.2 6.4,2.0 6.9,0.9" stroke-width="1.25"/><path d="M6.3,-6.8 L1.0,2.9" stroke-width="0.75"/></g><path d="M281.10,91.58H288.70M281.10,94.58H288.70" stroke="#262626" stroke-width="1.0" fill="none"/><text x="289.00" y="97.88" font-family="Liberation Serif, serif" font-size="14" fill="#000"><tspan fill="#333">–</tspan>1.0</text>
<line x1="237.30" y1="112.12" x2="270.00" y2="112.12" stroke="#F14040" stroke-width="1.3"/><circle cx="253.60" cy="112.12" r="3.04" fill="#F14040"/><g transform="translate(273.60,117.02)" fill="none" stroke="#111" stroke-linecap="round"><path d="M0.3,-5.0 C0.6,-6.4 1.5,-7.1 2.3,-6.0 L5.3,1.3 C5.7,2.2 6.4,2.0 6.9,0.9" stroke-width="1.25"/><path d="M6.3,-6.8 L1.0,2.9" stroke-width="0.75"/></g><path d="M281.10,110.72H288.70M281.10,113.72H288.70" stroke="#262626" stroke-width="1.0" fill="none"/><text x="289.00" y="117.02" font-family="Liberation Serif, serif" font-size="14" fill="#000"><tspan fill="#333">–</tspan>0.9</text>
<line x1="237.30" y1="131.26" x2="270.00" y2="131.26" stroke="#1A6FDF" stroke-width="1.3"/><polygon points="253.60,127.58 256.80,133.34 250.40,133.34" fill="#1A6FDF"/><g transform="translate(273.60,136.16)" fill="none" stroke="#111" stroke-linecap="round"><path d="M0.3,-5.0 C0.6,-6.4 1.5,-7.1 2.3,-6.0 L5.3,1.3 C5.7,2.2 6.4,2.0 6.9,0.9" stroke-width="1.25"/><path d="M6.3,-6.8 L1.0,2.9" stroke-width="0.75"/></g><path d="M281.10,129.86H288.70M281.10,132.86H288.70" stroke="#262626" stroke-width="1.0" fill="none"/><text x="289.00" y="136.16" font-family="Liberation Serif, serif" font-size="14" fill="#000"><tspan fill="#333">–</tspan>0.8</text>
<line x1="237.30" y1="150.40" x2="270.00" y2="150.40" stroke="#37AD6B" stroke-width="1.3"/><polygon points="253.60,154.08 256.80,148.32 250.40,148.32" fill="#37AD6B"/><g transform="translate(273.60,155.30)" fill="none" stroke="#111" stroke-linecap="round"><path d="M0.3,-5.0 C0.6,-6.4 1.5,-7.1 2.3,-6.0 L5.3,1.3 C5.7,2.2 6.4,2.0 6.9,0.9" stroke-width="1.25"/><path d="M6.3,-6.8 L1.0,2.9" stroke-width="0.75"/></g><path d="M281.10,149.00H288.70M281.10,152.00H288.70" stroke="#262626" stroke-width="1.0" fill="none"/><text x="289.00" y="155.30" font-family="Liberation Serif, serif" font-size="14" fill="#000"><tspan fill="#333">–</tspan>0.7</text>
<line x1="237.30" y1="169.54" x2="270.00" y2="169.54" stroke="#B177DE" stroke-width="1.3"/><polygon points="253.60,165.70 257.44,169.54 253.60,173.38 249.76,169.54" fill="#B177DE"/><g transform="translate(273.60,174.44)" fill="none" stroke="#111" stroke-linecap="round"><path d="M0.3,-5.0 C0.6,-6.4 1.5,-7.1 2.3,-6.0 L5.3,1.3 C5.7,2.2 6.4,2.0 6.9,0.9" stroke-width="1.25"/><path d="M6.3,-6.8 L1.0,2.9" stroke-width="0.75"/></g><path d="M281.10,168.14H288.70M281.10,171.14H288.70" stroke="#262626" stroke-width="1.0" fill="none"/><text x="289.00" y="174.44" font-family="Liberation Serif, serif" font-size="14" fill="#000"><tspan fill="#333">–</tspan>0.6</text><polyline points="383.00,40.00 386.51,52.75 390.03,65.50 393.57,78.25 397.13,91.00 400.71,103.75 404.30,116.50 407.91,129.25 411.54,142.00 415.18,154.75 418.84,167.50 422.52,180.25 426.22,193.00 429.94,205.75 433.67,218.50 437.42,231.25 441.18,244.00 444.97,256.75 448.77,269.50" fill="none" stroke="#515151" stroke-width="1.3"/>
<rect x="380.28" y="37.28" width="5.44" height="5.44" fill="#515151"/>
<rect x="383.79" y="50.03" width="5.44" height="5.44" fill="#515151"/>
<rect x="387.31" y="62.78" width="5.44" height="5.44" fill="#515151"/>
<rect x="390.85" y="75.53" width="5.44" height="5.44" fill="#515151"/>
<rect x="394.41" y="88.28" width="5.44" height="5.44" fill="#515151"/>
<rect x="397.99" y="101.03" width="5.44" height="5.44" fill="#515151"/>
<rect x="401.58" y="113.78" width="5.44" height="5.44" fill="#515151"/>
<rect x="405.19" y="126.53" width="5.44" height="5.44" fill="#515151"/>
<rect x="408.82" y="139.28" width="5.44" height="5.44" fill="#515151"/>
<rect x="412.46" y="152.03" width="5.44" height="5.44" fill="#515151"/>
<rect x="416.12" y="164.78" width="5.44" height="5.44" fill="#515151"/>
<rect x="419.80" y="177.53" width="5.44" height="5.44" fill="#515151"/>
<rect x="423.50" y="190.28" width="5.44" height="5.44" fill="#515151"/>
<rect x="427.22" y="203.03" width="5.44" height="5.44" fill="#515151"/>
<rect x="430.95" y="215.78" width="5.44" height="5.44" fill="#515151"/>
<rect x="434.70" y="228.53" width="5.44" height="5.44" fill="#515151"/>
<rect x="438.46" y="241.28" width="5.44" height="5.44" fill="#515151"/>
<rect x="442.25" y="254.03" width="5.44" height="5.44" fill="#515151"/>
<rect x="446.05" y="266.78" width="5.44" height="5.44" fill="#515151"/>
<polyline points="383.00,40.00 386.57,52.75 390.15,65.50 393.75,78.25 397.37,91.00 401.01,103.75 404.67,116.50 408.34,129.25 412.03,142.00 415.73,154.75 419.46,167.50 423.20,180.25 426.96,193.00 430.73,205.75 434.52,218.50 438.33,231.25 442.16,244.00 446.01,256.75 449.87,269.50" fill="none" stroke="#F14040" stroke-width="1.3"/>
<circle cx="383.00" cy="40.00" r="3.04" fill="#F14040"/>
<circle cx="386.57" cy="52.75" r="3.04" fill="#F14040"/>
<circle cx="390.15" cy="65.50" r="3.04" fill="#F14040"/>
<circle cx="393.75" cy="78.25" r="3.04" fill="#F14040"/>
<circle cx="397.37" cy="91.00" r="3.04" fill="#F14040"/>
<circle cx="401.01" cy="103.75" r="3.04" fill="#F14040"/>
<circle cx="404.67" cy="116.50" r="3.04" fill="#F14040"/>
<circle cx="408.34" cy="129.25" r="3.04" fill="#F14040"/>
<circle cx="412.03" cy="142.00" r="3.04" fill="#F14040"/>
<circle cx="415.73" cy="154.75" r="3.04" fill="#F14040"/>
<circle cx="419.46" cy="167.50" r="3.04" fill="#F14040"/>
<circle cx="423.20" cy="180.25" r="3.04" fill="#F14040"/>
<circle cx="426.96" cy="193.00" r="3.04" fill="#F14040"/>
<circle cx="430.73" cy="205.75" r="3.04" fill="#F14040"/>
<circle cx="434.52" cy="218.50" r="3.04" fill="#F14040"/>
<circle cx="438.33" cy="231.25" r="3.04" fill="#F14040"/>
<circle cx="442.16" cy="244.00" r="3.04" fill="#F14040"/>
<circle cx="446.01" cy="256.75" r="3.04" fill="#F14040"/>
<circle cx="449.87" cy="269.50" r="3.04" fill="#F14040"/>
<polyline points="383.00,40.00 386.60,52.75 390.28,65.50 394.06,78.25 397.93,91.00 401.89,103.75 405.94,116.50 410.08,129.25 414.32,142.00 418.64,154.75 423.06,167.50 427.56,180.25 432.16,193.00 436.85,205.75 441.62,218.50 446.49,231.25 451.45,244.00 456.50,256.75 461.65,269.50" fill="none" stroke="#1A6FDF" stroke-width="1.3"/>
<polygon points="383.00,36.32 386.20,42.08 379.80,42.08" fill="#1A6FDF"/>
<polygon points="386.60,49.07 389.80,54.83 383.40,54.83" fill="#1A6FDF"/>
<polygon points="390.28,61.82 393.48,67.58 387.08,67.58" fill="#1A6FDF"/>
<polygon points="394.06,74.57 397.26,80.33 390.86,80.33" fill="#1A6FDF"/>
<polygon points="397.93,87.32 401.13,93.08 394.73,93.08" fill="#1A6FDF"/>
<polygon points="401.89,100.07 405.09,105.83 398.69,105.83" fill="#1A6FDF"/>
<polygon points="405.94,112.82 409.14,118.58 402.74,118.58" fill="#1A6FDF"/>
<polygon points="410.08,125.57 413.28,131.33 406.88,131.33" fill="#1A6FDF"/>
<polygon points="414.32,138.32 417.52,144.08 411.12,144.08" fill="#1A6FDF"/>
<polygon points="418.64,151.07 421.84,156.83 415.44,156.83" fill="#1A6FDF"/>
<polygon points="423.06,163.82 426.26,169.58 419.86,169.58" fill="#1A6FDF"/>
<polygon points="427.56,176.57 430.76,182.33 424.36,182.33" fill="#1A6FDF"/>
<polygon points="432.16,189.32 435.36,195.08 428.96,195.08" fill="#1A6FDF"/>
<polygon points="436.85,202.07 440.05,207.83 433.65,207.83" fill="#1A6FDF"/>
<polygon points="441.62,214.82 444.82,220.58 438.42,220.58" fill="#1A6FDF"/>
<polygon points="446.49,227.57 449.69,233.33 443.29,233.33" fill="#1A6FDF"/>
<polygon points="451.45,240.32 454.65,246.08 448.25,246.08" fill="#1A6FDF"/>
<polygon points="456.50,253.07 459.70,258.83 453.30,258.83" fill="#1A6FDF"/>
<polygon points="461.65,265.82 464.85,271.58 458.45,271.58" fill="#1A6FDF"/>
<polyline points="383.00,40.00 386.57,52.75 390.32,65.50 394.24,78.25 398.32,91.00 402.58,103.75 407.01,116.50 411.61,129.25 416.37,142.00 421.31,154.75 426.43,167.50 431.71,180.25 437.16,193.00 442.78,205.75 448.57,218.50 454.54,231.25 460.67,244.00 466.98,256.75 473.45,269.50" fill="none" stroke="#37AD6B" stroke-width="1.3"/>
<polygon points="383.00,43.68 386.20,37.92 379.80,37.92" fill="#37AD6B"/>
<polygon points="386.57,56.43 389.77,50.67 383.37,50.67" fill="#37AD6B"/>
<polygon points="390.32,69.18 393.52,63.42 387.12,63.42" fill="#37AD6B"/>
<polygon points="394.24,81.93 397.44,76.17 391.04,76.17" fill="#37AD6B"/>
<polygon points="398.32,94.68 401.52,88.92 395.12,88.92" fill="#37AD6B"/>
<polygon points="402.58,107.43 405.78,101.67 399.38,101.67" fill="#37AD6B"/>
<polygon points="407.01,120.18 410.21,114.42 403.81,114.42" fill="#37AD6B"/>
<polygon points="411.61,132.93 414.81,127.17 408.41,127.17" fill="#37AD6B"/>
<polygon points="416.37,145.68 419.57,139.92 413.17,139.92" fill="#37AD6B"/>
<polygon points="421.31,158.43 424.51,152.67 418.11,152.67" fill="#37AD6B"/>
<polygon points="426.43,171.18 429.62,165.42 423.23,165.42" fill="#37AD6B"/>
<polygon points="431.71,183.93 434.91,178.17 428.51,178.17" fill="#37AD6B"/>
<polygon points="437.16,196.68 440.36,190.92 433.96,190.92" fill="#37AD6B"/>
<polygon points="442.78,209.43 445.98,203.67 439.58,203.67" fill="#37AD6B"/>
<polygon points="448.57,222.18 451.77,216.42 445.37,216.42" fill="#37AD6B"/>
<polygon points="454.54,234.93 457.74,229.17 451.34,229.17" fill="#37AD6B"/>
<polygon points="460.67,247.68 463.87,241.92 457.47,241.92" fill="#37AD6B"/>
<polygon points="466.98,260.43 470.18,254.67 463.78,254.67" fill="#37AD6B"/>
<polygon points="473.45,273.18 476.65,267.42 470.25,267.42" fill="#37AD6B"/>
<polyline points="383.00,40.00 386.61,52.75 390.46,65.50 394.56,78.25 398.89,91.00 403.48,103.75 408.30,116.50 413.37,129.25 418.68,142.00 424.24,154.75 430.04,167.50 436.08,180.25 442.36,193.00 448.89,205.75 455.66,218.50 462.67,231.25 469.93,244.00 477.43,256.75 485.18,269.50" fill="none" stroke="#B177DE" stroke-width="1.3"/>
<polygon points="383.00,36.16 386.84,40.00 383.00,43.84 379.16,40.00" fill="#B177DE"/>
<polygon points="386.61,48.91 390.45,52.75 386.61,56.59 382.77,52.75" fill="#B177DE"/>
<polygon points="390.46,61.66 394.30,65.50 390.46,69.34 386.62,65.50" fill="#B177DE"/>
<polygon points="394.56,74.41 398.40,78.25 394.56,82.09 390.72,78.25" fill="#B177DE"/>
<polygon points="398.89,87.16 402.73,91.00 398.89,94.84 395.05,91.00" fill="#B177DE"/>
<polygon points="403.48,99.91 407.32,103.75 403.48,107.59 399.64,103.75" fill="#B177DE"/>
<polygon points="408.30,112.66 412.14,116.50 408.30,120.34 404.46,116.50" fill="#B177DE"/>
<polygon points="413.37,125.41 417.21,129.25 413.37,133.09 409.53,129.25" fill="#B177DE"/>
<polygon points="418.68,138.16 422.52,142.00 418.68,145.84 414.84,142.00" fill="#B177DE"/>
<polygon points="424.24,150.91 428.08,154.75 424.24,158.59 420.40,154.75" fill="#B177DE"/>
<polygon points="430.04,163.66 433.88,167.50 430.04,171.34 426.20,167.50" fill="#B177DE"/>
<polygon points="436.08,176.41 439.92,180.25 436.08,184.09 432.24,180.25" fill="#B177DE"/>
<polygon points="442.36,189.16 446.20,193.00 442.36,196.84 438.52,193.00" fill="#B177DE"/>
<polygon points="448.89,201.91 452.73,205.75 448.89,209.59 445.05,205.75" fill="#B177DE"/>
<polygon points="455.66,214.66 459.50,218.50 455.66,222.34 451.82,218.50" fill="#B177DE"/>
<polygon points="462.67,227.41 466.51,231.25 462.67,235.09 458.83,231.25" fill="#B177DE"/>
<polygon points="469.93,240.16 473.77,244.00 469.93,247.84 466.09,244.00" fill="#B177DE"/>
<polygon points="477.43,252.91 481.27,256.75 477.43,260.59 473.59,256.75" fill="#B177DE"/>
<polygon points="485.18,265.66 489.02,269.50 485.18,273.34 481.34,269.50" fill="#B177DE"/>
<polyline points="383.00,40.00 386.71,52.75 390.73,65.50 395.05,78.25 399.67,91.00 404.60,103.75 409.83,116.50 415.36,129.25 421.19,142.00 427.33,154.75 433.77,167.50 440.51,180.25 447.56,193.00 454.91,205.75 462.56,218.50 470.52,231.25 478.78,244.00 487.34,256.75 496.20,269.50" fill="none" stroke="#CC9900" stroke-width="1.3"/>
<polygon points="379.32,40.00 385.08,36.80 385.08,43.20" fill="#CC9900"/>
<polygon points="383.03,52.75 388.79,49.55 388.79,55.95" fill="#CC9900"/>
<polygon points="387.05,65.50 392.81,62.30 392.81,68.70" fill="#CC9900"/>
<polygon points="391.37,78.25 397.13,75.05 397.13,81.45" fill="#CC9900"/>
<polygon points="395.99,91.00 401.75,87.80 401.75,94.20" fill="#CC9900"/>
<polygon points="400.92,103.75 406.68,100.55 406.68,106.95" fill="#CC9900"/>
<polygon points="406.15,116.50 411.91,113.30 411.91,119.70" fill="#CC9900"/>
<polygon points="411.68,129.25 417.44,126.05 417.44,132.45" fill="#CC9900"/>
<polygon points="417.51,142.00 423.27,138.80 423.27,145.20" fill="#CC9900"/>
<polygon points="423.65,154.75 429.41,151.55 429.41,157.95" fill="#CC9900"/>
<polygon points="430.09,167.50 435.85,164.30 435.85,170.70" fill="#CC9900"/>
<polygon points="436.83,180.25 442.59,177.05 442.59,183.45" fill="#CC9900"/>
<polygon points="443.88,193.00 449.64,189.80 449.64,196.20" fill="#CC9900"/>
<polygon points="451.23,205.75 456.99,202.55 456.99,208.95" fill="#CC9900"/>
<polygon points="458.88,218.50 464.64,215.30 464.64,221.70" fill="#CC9900"/>
<polygon points="466.84,231.25 472.60,228.05 472.60,234.45" fill="#CC9900"/>
<polygon points="475.10,244.00 480.86,240.80 480.86,247.20" fill="#CC9900"/>
<polygon points="483.66,256.75 489.42,253.55 489.42,259.95" fill="#CC9900"/>
<polygon points="492.52,269.50 498.28,266.30 498.28,272.70" fill="#CC9900"/>
<polyline points="383.00,40.00 386.90,52.75 391.20,65.50 395.89,78.25 400.98,91.00 406.47,103.75 412.35,116.50 418.63,129.25 425.31,142.00 432.38,154.75 439.86,167.50 447.72,180.25 455.99,193.00 464.65,205.75 473.71,218.50 483.16,231.25 493.02,244.00 503.26,256.75 513.91,269.50" fill="none" stroke="#00CBCC" stroke-width="1.3"/>
<polygon points="386.68,40.00 380.92,36.80 380.92,43.20" fill="#00CBCC"/>
<polygon points="390.58,52.75 384.82,49.55 384.82,55.95" fill="#00CBCC"/>
<polygon points="394.88,65.50 389.12,62.30 389.12,68.70" fill="#00CBCC"/>
<polygon points="399.57,78.25 393.81,75.05 393.81,81.45" fill="#00CBCC"/>
<polygon points="404.66,91.00 398.90,87.80 398.90,94.20" fill="#00CBCC"/>
<polygon points="410.15,103.75 404.39,100.55 404.39,106.95" fill="#00CBCC"/>
<polygon points="416.03,116.50 410.27,113.30 410.27,119.70" fill="#00CBCC"/>
<polygon points="422.31,129.25 416.55,126.05 416.55,132.45" fill="#00CBCC"/>
<polygon points="428.99,142.00 423.23,138.80 423.23,145.20" fill="#00CBCC"/>
<polygon points="436.06,154.75 430.30,151.55 430.30,157.95" fill="#00CBCC"/>
<polygon points="443.54,167.50 437.78,164.30 437.78,170.70" fill="#00CBCC"/>
<polygon points="451.40,180.25 445.64,177.05 445.64,183.45" fill="#00CBCC"/>
<polygon points="459.67,193.00 453.91,189.80 453.91,196.20" fill="#00CBCC"/>
<polygon points="468.33,205.75 462.57,202.55 462.57,208.95" fill="#00CBCC"/>
<polygon points="477.39,218.50 471.63,215.30 471.63,221.70" fill="#00CBCC"/>
<polygon points="486.84,231.25 481.08,228.05 481.08,234.45" fill="#00CBCC"/>
<polygon points="496.70,244.00 490.94,240.80 490.94,247.20" fill="#00CBCC"/>
<polygon points="506.94,256.75 501.18,253.55 501.18,259.95" fill="#00CBCC"/>
<polygon points="517.59,269.50 511.83,266.30 511.83,272.70" fill="#00CBCC"/>
<polyline points="383.00,40.00 386.98,52.75 391.45,65.50 396.43,78.25 401.91,91.00 407.89,103.75 414.37,116.50 421.35,129.25 428.84,142.00 436.82,154.75 445.31,167.50 454.30,180.25 463.79,193.00 473.78,205.75 484.27,218.50 495.26,231.25 506.76,244.00 518.75,256.75 531.25,269.50" fill="none" stroke="#7D4E4E" stroke-width="1.3"/>
<polygon points="386.20,40.00 384.60,42.77 381.40,42.77 379.80,40.00 381.40,37.23 384.60,37.23" fill="#7D4E4E"/>
<polygon points="390.18,52.75 388.58,55.52 385.38,55.52 383.78,52.75 385.38,49.98 388.58,49.98" fill="#7D4E4E"/>
<polygon points="394.65,65.50 393.05,68.27 389.85,68.27 388.25,65.50 389.85,62.73 393.05,62.73" fill="#7D4E4E"/>
<polygon points="399.63,78.25 398.03,81.02 394.83,81.02 393.23,78.25 394.83,75.48 398.03,75.48" fill="#7D4E4E"/>
<polygon points="405.11,91.00 403.51,93.77 400.31,93.77 398.71,91.00 400.31,88.23 403.51,88.23" fill="#7D4E4E"/>
<polygon points="411.09,103.75 409.49,106.52 406.29,106.52 404.69,103.75 406.29,100.98 409.49,100.98" fill="#7D4E4E"/>
<polygon points="417.57,116.50 415.97,119.27 412.77,119.27 411.17,116.50 412.77,113.73 415.97,113.73" fill="#7D4E4E"/>
<polygon points="424.55,129.25 422.95,132.02 419.75,132.02 418.15,129.25 419.75,126.48 422.95,126.48" fill="#7D4E4E"/>
<polygon points="432.04,142.00 430.44,144.77 427.24,144.77 425.64,142.00 427.24,139.23 430.44,139.23" fill="#7D4E4E"/>
<polygon points="440.02,154.75 438.42,157.52 435.22,157.52 433.62,154.75 435.22,151.98 438.42,151.98" fill="#7D4E4E"/>
<polygon points="448.51,167.50 446.91,170.27 443.71,170.27 442.11,167.50 443.71,164.73 446.91,164.73" fill="#7D4E4E"/>
<polygon points="457.50,180.25 455.90,183.02 452.70,183.02 451.10,180.25 452.70,177.48 455.90,177.48" fill="#7D4E4E"/>
<polygon points="466.99,193.00 465.39,195.77 462.19,195.77 460.59,193.00 462.19,190.23 465.39,190.23" fill="#7D4E4E"/>
<polygon points="476.98,205.75 475.38,208.52 472.18,208.52 470.58,205.75 472.18,202.98 475.38,202.98" fill="#7D4E4E"/>
<polygon points="487.47,218.50 485.87,221.27 482.67,221.27 481.07,218.50 482.67,215.73 485.87,215.73" fill="#7D4E4E"/>
<polygon points="498.46,231.25 496.86,234.02 493.66,234.02 492.06,231.25 493.66,228.48 496.86,228.48" fill="#7D4E4E"/>
<polygon points="509.96,244.00 508.36,246.77 505.16,246.77 503.56,244.00 505.16,241.23 508.36,241.23" fill="#7D4E4E"/>
<polygon points="521.95,256.75 520.35,259.52 517.15,259.52 515.55,256.75 517.15,253.98 520.35,253.98" fill="#7D4E4E"/>
<polygon points="534.45,269.50 532.85,272.27 529.65,272.27 528.05,269.50 529.65,266.73 532.85,266.73" fill="#7D4E4E"/>
<polyline points="383.00,40.00 386.97,52.75 391.56,65.50 396.77,78.25 402.59,91.00 409.02,103.75 416.07,116.50 423.74,129.25 432.02,142.00 440.91,154.75 450.43,167.50 460.55,180.25 471.30,193.00 482.66,205.75 494.63,218.50 507.22,231.25 520.42,244.00 534.24,256.75 548.68,269.50" fill="none" stroke="#8E8E00" stroke-width="1.3"/>
<polygon points="383.00,36.00 383.94,38.71 386.80,38.76 384.52,40.49 385.35,43.24 383.00,41.60 380.65,43.24 381.48,40.49 379.20,38.76 382.06,38.71" fill="#8E8E00"/>
<polygon points="386.97,48.75 387.91,51.46 390.78,51.51 388.49,53.24 389.32,55.99 386.97,54.35 384.62,55.99 385.45,53.24 383.17,51.51 386.03,51.46" fill="#8E8E00"/>
<polygon points="391.56,61.50 392.50,64.21 395.37,64.26 393.08,65.99 393.91,68.74 391.56,67.10 389.21,68.74 390.04,65.99 387.76,64.26 390.62,64.21" fill="#8E8E00"/>
<polygon points="396.77,74.25 397.71,76.96 400.57,77.01 398.29,78.74 399.12,81.49 396.77,79.85 394.41,81.49 395.24,78.74 392.96,77.01 395.83,76.96" fill="#8E8E00"/>
<polygon points="402.59,87.00 403.53,89.71 406.39,89.76 404.11,91.49 404.94,94.24 402.59,92.60 400.23,94.24 401.06,91.49 398.78,89.76 401.65,89.71" fill="#8E8E00"/>
<polygon points="409.02,99.75 409.96,102.46 412.82,102.51 410.54,104.24 411.37,106.99 409.02,105.35 406.67,106.99 407.50,104.24 405.22,102.51 408.08,102.46" fill="#8E8E00"/>
<polygon points="416.07,112.50 417.01,115.21 419.88,115.26 417.59,116.99 418.42,119.74 416.07,118.10 413.72,119.74 414.55,116.99 412.27,115.26 415.13,115.21" fill="#8E8E00"/>
<polygon points="423.74,125.25 424.68,127.96 427.54,128.01 425.26,129.74 426.09,132.49 423.74,130.85 421.39,132.49 422.22,129.74 419.93,128.01 422.80,127.96" fill="#8E8E00"/>
<polygon points="432.02,138.00 432.96,140.71 435.82,140.76 433.54,142.49 434.37,145.24 432.02,143.60 429.67,145.24 430.50,142.49 428.21,140.76 431.08,140.71" fill="#8E8E00"/>
<polygon points="440.91,150.75 441.86,153.46 444.72,153.51 442.44,155.24 443.27,157.99 440.91,156.35 438.56,157.99 439.39,155.24 437.11,153.51 439.97,153.46" fill="#8E8E00"/>
<polygon points="450.43,163.50 451.37,166.21 454.23,166.26 451.95,167.99 452.78,170.74 450.43,169.10 448.08,170.74 448.91,167.99 446.62,166.26 449.49,166.21" fill="#8E8E00"/>
<polygon points="460.55,176.25 461.50,178.96 464.36,179.01 462.08,180.74 462.91,183.49 460.55,181.85 458.20,183.49 459.03,180.74 456.75,179.01 459.61,178.96" fill="#8E8E00"/>
<polygon points="471.30,189.00 472.24,191.71 475.10,191.76 472.82,193.49 473.65,196.24 471.30,194.60 468.95,196.24 469.78,193.49 467.49,191.76 470.36,191.71" fill="#8E8E00"/>
<polygon points="482.66,201.75 483.60,204.46 486.46,204.51 484.18,206.24 485.01,208.99 482.66,207.35 480.31,208.99 481.13,206.24 478.85,204.51 481.72,204.46" fill="#8E8E00"/>
<polygon points="494.63,214.50 495.57,217.21 498.43,217.26 496.15,218.99 496.98,221.74 494.63,220.10 492.28,221.74 493.11,218.99 490.83,217.26 493.69,217.21" fill="#8E8E00"/>
<polygon points="507.22,227.25 508.16,229.96 511.02,230.01 508.74,231.74 509.57,234.49 507.22,232.85 504.87,234.49 505.70,231.74 503.42,230.01 506.28,229.96" fill="#8E8E00"/>
<polygon points="520.42,240.00 521.36,242.71 524.23,242.76 521.95,244.49 522.78,247.24 520.42,245.60 518.07,247.24 518.90,244.49 516.62,242.76 519.48,242.71" fill="#8E8E00"/>
<polygon points="534.24,252.75 535.19,255.46 538.05,255.51 535.77,257.24 536.60,259.99 534.24,258.35 531.89,259.99 532.72,257.24 530.44,255.51 533.30,255.46" fill="#8E8E00"/>
<polygon points="548.68,265.50 549.62,268.21 552.48,268.26 550.20,269.99 551.03,272.74 548.68,271.10 546.33,272.74 547.16,269.99 544.88,268.26 547.74,268.21" fill="#8E8E00"/>
<polyline points="383.00,40.00 387.09,52.75 391.92,65.50 397.49,78.25 403.80,91.00 410.86,103.75 418.65,116.50 427.18,129.25 436.46,142.00 446.47,154.75 457.23,167.50 468.73,180.25 480.97,193.00 493.94,205.75 507.66,218.50 522.12,231.25 537.33,244.00 553.27,256.75 569.95,269.50" fill="none" stroke="#FB6501" stroke-width="1.3"/>
<polygon points="383.00,36.48 386.35,38.91 385.07,42.85 380.93,42.85 379.65,38.91" fill="#FB6501"/>
<polygon points="387.09,49.23 390.44,51.66 389.16,55.60 385.02,55.60 383.74,51.66" fill="#FB6501"/>
<polygon points="391.92,61.98 395.27,64.41 393.99,68.35 389.85,68.35 388.57,64.41" fill="#FB6501"/>
<polygon points="397.49,74.73 400.84,77.16 399.56,81.10 395.42,81.10 394.14,77.16" fill="#FB6501"/>
<polygon points="403.80,87.48 407.15,89.91 405.87,93.85 401.73,93.85 400.45,89.91" fill="#FB6501"/>
<polygon points="410.86,100.23 414.20,102.66 412.92,106.60 408.79,106.60 407.51,102.66" fill="#FB6501"/>
<polygon points="418.65,112.98 422.00,115.41 420.72,119.35 416.58,119.35 415.30,115.41" fill="#FB6501"/>
<polygon points="427.18,125.73 430.53,128.16 429.25,132.10 425.11,132.10 423.84,128.16" fill="#FB6501"/>
<polygon points="436.46,138.48 439.81,140.91 438.53,144.85 434.39,144.85 433.11,140.91" fill="#FB6501"/>
<polygon points="446.47,151.23 449.82,153.66 448.54,157.60 444.40,157.60 443.13,153.66" fill="#FB6501"/>
<polygon points="457.23,163.98 460.58,166.41 459.30,170.35 455.16,170.35 453.88,166.41" fill="#FB6501"/>
<polygon points="468.73,176.73 472.08,179.16 470.80,183.10 466.66,183.10 465.38,179.16" fill="#FB6501"/>
<polygon points="480.97,189.48 484.31,191.91 483.03,195.85 478.90,195.85 477.62,191.91" fill="#FB6501"/>
<polygon points="493.94,202.23 497.29,204.66 496.01,208.60 491.88,208.60 490.60,204.66" fill="#FB6501"/>
<polygon points="507.66,214.98 511.01,217.41 509.73,221.35 505.59,221.35 504.32,217.41" fill="#FB6501"/>
<polygon points="522.12,227.73 525.47,230.16 524.19,234.10 520.06,234.10 518.78,230.16" fill="#FB6501"/>
<polygon points="537.33,240.48 540.67,242.91 539.39,246.85 535.26,246.85 533.98,242.91" fill="#FB6501"/>
<polygon points="553.27,253.23 556.62,255.66 555.34,259.60 551.20,259.60 549.92,255.66" fill="#FB6501"/>
<polygon points="569.95,265.98 573.30,268.41 572.02,272.35 567.88,272.35 566.60,268.41" fill="#FB6501"/>
<polyline points="383.00,40.00 387.33,52.75 392.51,65.50 398.53,78.25 405.40,91.00 413.11,103.75 421.66,116.50 431.06,129.25 441.30,142.00 452.38,154.75 464.31,167.50 477.08,180.25 490.70,193.00 505.16,205.75 520.46,218.50 536.61,231.25 553.60,244.00 571.44,256.75 590.11,269.50" fill="none" stroke="#6699CC" stroke-width="1.3"/>
<path d="M380.12 40.00H385.88M383.00 37.12V42.88" stroke="#7AA3D6" stroke-width="0.8" fill="none"/>
<path d="M384.45 52.75H390.21M387.33 49.87V55.63" stroke="#7AA3D6" stroke-width="0.8" fill="none"/>
<path d="M389.63 65.50H395.39M392.51 62.62V68.38" stroke="#7AA3D6" stroke-width="0.8" fill="none"/>
<path d="M395.65 78.25H401.41M398.53 75.37V81.13" stroke="#7AA3D6" stroke-width="0.8" fill="none"/>
<path d="M402.52 91.00H408.28M405.40 88.12V93.88" stroke="#7AA3D6" stroke-width="0.8" fill="none"/>
<path d="M410.23 103.75H415.99M413.11 100.87V106.63" stroke="#7AA3D6" stroke-width="0.8" fill="none"/>
<path d="M418.78 116.50H424.54M421.66 113.62V119.38" stroke="#7AA3D6" stroke-width="0.8" fill="none"/>
<path d="M428.18 129.25H433.94M431.06 126.37V132.13" stroke="#7AA3D6" stroke-width="0.8" fill="none"/>
<path d="M438.42 142.00H444.18M441.30 139.12V144.88" stroke="#7AA3D6" stroke-width="0.8" fill="none"/>
<path d="M449.50 154.75H455.26M452.38 151.87V157.63" stroke="#7AA3D6" stroke-width="0.8" fill="none"/>
<path d="M461.43 167.50H467.19M464.31 164.62V170.38" stroke="#7AA3D6" stroke-width="0.8" fill="none"/>
<path d="M474.20 180.25H479.96M477.08 177.37V183.13" stroke="#7AA3D6" stroke-width="0.8" fill="none"/>
<path d="M487.82 193.00H493.58M490.70 190.12V195.88" stroke="#7AA3D6" stroke-width="0.8" fill="none"/>
<path d="M502.28 205.75H508.04M505.16 202.87V208.63" stroke="#7AA3D6" stroke-width="0.8" fill="none"/>
<path d="M517.58 218.50H523.34M520.46 215.62V221.38" stroke="#7AA3D6" stroke-width="0.8" fill="none"/>
<path d="M533.73 231.25H539.49M536.61 228.37V234.13" stroke="#7AA3D6" stroke-width="0.8" fill="none"/>
<path d="M550.72 244.00H556.48M553.60 241.12V246.88" stroke="#7AA3D6" stroke-width="0.8" fill="none"/>
<path d="M568.56 256.75H574.32M571.44 253.87V259.63" stroke="#7AA3D6" stroke-width="0.8" fill="none"/>
<path d="M587.23 269.50H592.99M590.11 266.62V272.38" stroke="#7AA3D6" stroke-width="0.8" fill="none"/>
<polyline points="383.00,40.00 387.30,52.75 392.58,65.50 398.85,78.25 406.11,91.00 414.36,103.75 423.59,116.50 433.81,129.25 445.01,142.00 457.21,154.75 470.38,167.50 484.55,180.25 499.70,193.00 515.84,205.75 532.97,218.50 551.08,231.25 570.18,244.00 590.27,256.75 611.34,269.50" fill="none" stroke="#6FB802" stroke-width="1.75"/>
<path d="M380.44 37.44L385.56 42.56M380.44 42.56L385.56 37.44" stroke="#A8D870" stroke-width="0.8" fill="none"/>
<path d="M384.74 50.19L389.86 55.31M384.74 55.31L389.86 50.19" stroke="#A8D870" stroke-width="0.8" fill="none"/>
<path d="M390.02 62.94L395.14 68.06M390.02 68.06L395.14 62.94" stroke="#A8D870" stroke-width="0.8" fill="none"/>
<path d="M396.29 75.69L401.41 80.81M396.29 80.81L401.41 75.69" stroke="#A8D870" stroke-width="0.8" fill="none"/>
<path d="M403.55 88.44L408.67 93.56M403.55 93.56L408.67 88.44" stroke="#A8D870" stroke-width="0.8" fill="none"/>
<path d="M411.80 101.19L416.92 106.31M411.80 106.31L416.92 101.19" stroke="#A8D870" stroke-width="0.8" fill="none"/>
<path d="M421.03 113.94L426.15 119.06M421.03 119.06L426.15 113.94" stroke="#A8D870" stroke-width="0.8" fill="none"/>
<path d="M431.25 126.69L436.37 131.81M431.25 131.81L436.37 126.69" stroke="#A8D870" stroke-width="0.8" fill="none"/>
<path d="M442.45 139.44L447.57 144.56M442.45 144.56L447.57 139.44" stroke="#A8D870" stroke-width="0.8" fill="none"/>
<path d="M454.65 152.19L459.77 157.31M454.65 157.31L459.77 152.19" stroke="#A8D870" stroke-width="0.8" fill="none"/>
<path d="M467.82 164.94L472.94 170.06M467.82 170.06L472.94 164.94" stroke="#A8D870" stroke-width="0.8" fill="none"/>
<path d="M481.99 177.69L487.11 182.81M481.99 182.81L487.11 177.69" stroke="#A8D870" stroke-width="0.8" fill="none"/>
<path d="M497.14 190.44L502.26 195.56M497.14 195.56L502.26 190.44" stroke="#A8D870" stroke-width="0.8" fill="none"/>
<path d="M513.28 203.19L518.40 208.31M513.28 208.31L518.40 203.19" stroke="#A8D870" stroke-width="0.8" fill="none"/>
<path d="M530.41 215.94L535.53 221.06M530.41 221.06L535.53 215.94" stroke="#A8D870" stroke-width="0.8" fill="none"/>
<path d="M548.52 228.69L553.64 233.81M548.52 233.81L553.64 228.69" stroke="#A8D870" stroke-width="0.8" fill="none"/>
<path d="M567.62 241.44L572.74 246.56M567.62 246.56L572.74 241.44" stroke="#A8D870" stroke-width="0.8" fill="none"/>
<path d="M587.71 254.19L592.83 259.31M587.71 259.31L592.83 254.19" stroke="#A8D870" stroke-width="0.8" fill="none"/>
<path d="M608.78 266.94L613.90 272.06M608.78 272.06L613.90 266.94" stroke="#A8D870" stroke-width="0.8" fill="none"/>
<circle cx="389.00" cy="52.20" r="2.95" fill="url(#bg)"/>
<circle cx="401.10" cy="77.90" r="2.95" fill="url(#bg)"/>
<circle cx="417.30" cy="103.20" r="2.95" fill="url(#bg)"/>
<circle cx="435.70" cy="129.10" r="2.95" fill="url(#bg)"/>
<circle cx="464.10" cy="155.00" r="2.95" fill="url(#bg)"/>
<circle cx="487.60" cy="180.40" r="2.95" fill="url(#bg)"/>
<circle cx="518.40" cy="205.90" r="2.95" fill="url(#bg)"/>
<circle cx="516.10" cy="231.60" r="2.95" fill="url(#bg)"/>
<circle cx="488.40" cy="257.10" r="2.95" fill="url(#bg)"/>
<rect x="383.00" y="40.00" width="287.00" height="229.50" fill="none" stroke="#3a3a3a" stroke-width="1.9"/>
<line x1="383.00" y1="40.0" x2="383.00" y2="44.6" stroke="#222" stroke-width="1.3"/>
<text x="383.00" y="32.6" font-family="Liberation Serif, serif" font-size="14.8" text-anchor="middle" fill="#000">0</text>
<line x1="440.40" y1="40.0" x2="440.40" y2="44.6" stroke="#222" stroke-width="1.3"/>
<text x="440.40" y="32.6" font-family="Liberation Serif, serif" font-size="14.8" text-anchor="middle" fill="#000">400</text>
<line x1="497.80" y1="40.0" x2="497.80" y2="44.6" stroke="#222" stroke-width="1.3"/>
<text x="497.80" y="32.6" font-family="Liberation Serif, serif" font-size="14.8" text-anchor="middle" fill="#000">800</text>
<line x1="555.20" y1="40.0" x2="555.20" y2="44.6" stroke="#222" stroke-width="1.3"/>
<text x="555.20" y="32.6" font-family="Liberation Serif, serif" font-size="14.8" text-anchor="middle" fill="#000">1200</text>
<line x1="612.60" y1="40.0" x2="612.60" y2="44.6" stroke="#222" stroke-width="1.3"/>
<text x="612.60" y="32.6" font-family="Liberation Serif, serif" font-size="14.8" text-anchor="middle" fill="#000">1600</text>
<line x1="670.00" y1="40.0" x2="670.00" y2="44.6" stroke="#222" stroke-width="1.3"/>
<text x="670.00" y="32.6" font-family="Liberation Serif, serif" font-size="14.8" text-anchor="middle" fill="#000">2000</text>
<line x1="383.0" y1="40.00" x2="387.6" y2="40.00" stroke="#222" stroke-width="1.3"/>
<text x="378.40" y="44.60" font-family="Liberation Serif, serif" font-size="14.8" text-anchor="end" fill="#000">0</text>
<line x1="383.0" y1="78.25" x2="387.6" y2="78.25" stroke="#222" stroke-width="1.3"/>
<text x="378.40" y="82.85" font-family="Liberation Serif, serif" font-size="14.8" text-anchor="end" fill="#000">3</text>
<line x1="383.0" y1="116.50" x2="387.6" y2="116.50" stroke="#222" stroke-width="1.3"/>
<text x="378.40" y="121.10" font-family="Liberation Serif, serif" font-size="14.8" text-anchor="end" fill="#000">6</text>
<line x1="383.0" y1="154.75" x2="387.6" y2="154.75" stroke="#222" stroke-width="1.3"/>
<text x="378.40" y="159.35" font-family="Liberation Serif, serif" font-size="14.8" text-anchor="end" fill="#000">9</text>
<line x1="383.0" y1="193.00" x2="387.6" y2="193.00" stroke="#222" stroke-width="1.3"/>
<text x="378.40" y="197.60" font-family="Liberation Serif, serif" font-size="14.8" text-anchor="end" fill="#000">12</text>
<line x1="383.0" y1="231.25" x2="387.6" y2="231.25" stroke="#222" stroke-width="1.3"/>
<text x="378.40" y="235.85" font-family="Liberation Serif, serif" font-size="14.8" text-anchor="end" fill="#000">15</text>
<line x1="383.0" y1="269.50" x2="387.6" y2="269.50" stroke="#222" stroke-width="1.3"/>
<text x="378.40" y="274.10" font-family="Liberation Serif, serif" font-size="14.8" text-anchor="end" fill="#000">18</text>
<circle cx="383.60" cy="39.80" r="2.95" fill="url(#bg)"/>
<text x="526.75" y="10.2" font-family="Liberation Serif, serif" font-size="14" text-anchor="middle" fill="#000">Dragload /kN</text>
<text transform="translate(357.40,155.05) rotate(-90)" font-family="Liberation Serif, serif" font-size="14.6" text-anchor="middle" fill="#000">Pile depth /m</text><text x="419.2" y="61.0" font-family="Liberation Serif, serif" font-size="14" letter-spacing="0.25">Calculated</text>
<text x="419.4" y="79.0" font-family="Liberation Serif, serif" font-size="14" letter-spacing="0.1">Measured</text>
<text x="418.9" y="95.5" font-family="Liberation Serif, serif" font-size="14">This study</text>
<line x1="490.1" y1="56.20" x2="525.1" y2="56.20" stroke="#6FB802" stroke-width="1.5"/>
<path d="M504.74 53.64L509.86 58.76M504.74 58.76L509.86 53.64" stroke="#A8D870" stroke-width="0.8" fill="none"/>
<g fill="#000"><text x="528.87" y="59.40" font-family="Liberation Serif, serif" font-size="13.3" font-style="italic">Q</text><text x="540.18" y="59.40" font-family="Liberation Serif, serif" font-size="12.5">=</text><text x="551.04" y="59.40" font-family="Liberation Serif, serif" font-size="12.5" font-style="italic">A</text><text x="558.20" y="62.00" font-family="Liberation Serif, serif" font-size="8.5">s</text><text x="563.81" y="60.00" font-family="Liberation Serif, serif" font-size="13.5">(</text><text x="567.98" y="59.40" font-family="Liberation Serif, serif" font-size="12.5" font-style="italic">γ</text><text x="574.19" y="59.40" font-family="Liberation Serif, serif" font-size="12.5">′</text><text x="579.18" y="59.40" font-family="Liberation Serif, serif" font-size="12.5">+</text><text x="588.36" y="59.40" font-family="Liberation Serif, serif" font-size="11.6">Δ</text><text x="595.00" y="59.40" font-family="Liberation Serif, serif" font-size="12.5">p</text><text x="602.22" y="60.00" font-family="Liberation Serif, serif" font-size="13.5">)</text><text x="608.30" y="59.40" font-family="Liberation Serif, serif" font-size="12.5" font-style="italic">h</text><text x="615.00" y="59.40" font-family="Liberation Serif, serif" font-size="12.5" font-style="italic">K</text><text x="624.98" y="59.40" font-family="Liberation Serif, serif" font-size="12.5">tan</text><text x="642.62" y="59.40" font-family="Liberation Serif, serif" font-size="13.2" font-style="italic">δ</text></g>
<circle cx="507.30" cy="76.60" r="2.95" fill="url(#bg)"/>
<text x="529.5" y="80.6" font-family="Liberation Serif, serif" font-size="14">FEM<tspan font-size="10" dy="-5.5">[30]</tspan></text>
<line x1="489.70" y1="94.20" x2="523.50" y2="94.20" stroke="#515151" stroke-width="1.3"/><rect x="503.88" y="91.48" width="5.44" height="5.44" fill="#515151"/><g transform="translate(527.40,99.10)" fill="none" stroke="#111" stroke-linecap="round"><path d="M0.3,-5.0 C0.6,-6.4 1.5,-7.1 2.3,-6.0 L5.3,1.3 C5.7,2.2 6.4,2.0 6.9,0.9" stroke-width="1.25"/><path d="M6.3,-6.8 L1.0,2.9" stroke-width="0.75"/></g><path d="M534.90,92.80H542.50M534.90,95.80H542.50" stroke="#262626" stroke-width="1.0" fill="none"/><text x="542.80" y="99.10" font-family="Liberation Serif, serif" font-size="14" fill="#000"><tspan fill="#333">–</tspan>1.0</text>
<line x1="489.70" y1="114.10" x2="523.50" y2="114.10" stroke="#F14040" stroke-width="1.3"/><circle cx="506.60" cy="114.10" r="3.04" fill="#F14040"/><g transform="translate(527.40,119.00)" fill="none" stroke="#111" stroke-linecap="round"><path d="M0.3,-5.0 C0.6,-6.4 1.5,-7.1 2.3,-6.0 L5.3,1.3 C5.7,2.2 6.4,2.0 6.9,0.9" stroke-width="1.25"/><path d="M6.3,-6.8 L1.0,2.9" stroke-width="0.75"/></g><path d="M534.90,112.70H542.50M534.90,115.70H542.50" stroke="#262626" stroke-width="1.0" fill="none"/><text x="542.80" y="119.00" font-family="Liberation Serif, serif" font-size="14" fill="#000"><tspan fill="#333">–</tspan>0.9</text>
<line x1="489.70" y1="134.00" x2="523.50" y2="134.00" stroke="#1A6FDF" stroke-width="1.3"/><polygon points="506.60,130.32 509.80,136.08 503.40,136.08" fill="#1A6FDF"/><g transform="translate(527.40,138.90)" fill="none" stroke="#111" stroke-linecap="round"><path d="M0.3,-5.0 C0.6,-6.4 1.5,-7.1 2.3,-6.0 L5.3,1.3 C5.7,2.2 6.4,2.0 6.9,0.9" stroke-width="1.25"/><path d="M6.3,-6.8 L1.0,2.9" stroke-width="0.75"/></g><path d="M534.90,132.60H542.50M534.90,135.60H542.50" stroke="#262626" stroke-width="1.0" fill="none"/><text x="542.80" y="138.90" font-family="Liberation Serif, serif" font-size="14" fill="#000"><tspan fill="#333">–</tspan>0.8</text>
<line x1="489.70" y1="153.90" x2="523.50" y2="153.90" stroke="#37AD6B" stroke-width="1.3"/><polygon points="506.60,157.58 509.80,151.82 503.40,151.82" fill="#37AD6B"/><g transform="translate(527.40,158.80)" fill="none" stroke="#111" stroke-linecap="round"><path d="M0.3,-5.0 C0.6,-6.4 1.5,-7.1 2.3,-6.0 L5.3,1.3 C5.7,2.2 6.4,2.0 6.9,0.9" stroke-width="1.25"/><path d="M6.3,-6.8 L1.0,2.9" stroke-width="0.75"/></g><path d="M534.90,152.50H542.50M534.90,155.50H542.50" stroke="#262626" stroke-width="1.0" fill="none"/><text x="542.80" y="158.80" font-family="Liberation Serif, serif" font-size="14" fill="#000"><tspan fill="#333">–</tspan>0.7</text>
<line x1="489.70" y1="173.80" x2="523.50" y2="173.80" stroke="#B177DE" stroke-width="1.3"/><polygon points="506.60,169.96 510.44,173.80 506.60,177.64 502.76,173.80" fill="#B177DE"/><g transform="translate(527.40,178.70)" fill="none" stroke="#111" stroke-linecap="round"><path d="M0.3,-5.0 C0.6,-6.4 1.5,-7.1 2.3,-6.0 L5.3,1.3 C5.7,2.2 6.4,2.0 6.9,0.9" stroke-width="1.25"/><path d="M6.3,-6.8 L1.0,2.9" stroke-width="0.75"/></g><path d="M534.90,172.40H542.50M534.90,175.40H542.50" stroke="#262626" stroke-width="1.0" fill="none"/><text x="542.80" y="178.70" font-family="Liberation Serif, serif" font-size="14" fill="#000"><tspan fill="#333">–</tspan>0.6</text>
<line x1="573.00" y1="93.90" x2="605.60" y2="93.90" stroke="#CC9900" stroke-width="1.3"/><polygon points="585.62,93.90 591.38,90.70 591.38,97.10" fill="#CC9900"/><g transform="translate(609.80,98.80)" fill="none" stroke="#111" stroke-linecap="round"><path d="M0.3,-5.0 C0.6,-6.4 1.5,-7.1 2.3,-6.0 L5.3,1.3 C5.7,2.2 6.4,2.0 6.9,0.9" stroke-width="1.25"/><path d="M6.3,-6.8 L1.0,2.9" stroke-width="0.75"/></g><path d="M617.30,92.50H624.90M617.30,95.50H624.90" stroke="#262626" stroke-width="1.0" fill="none"/><text x="625.20" y="98.80" font-family="Liberation Serif, serif" font-size="14" fill="#000"><tspan fill="#333">–</tspan>0.5</text>
<line x1="573.00" y1="113.16" x2="605.60" y2="113.16" stroke="#00CBCC" stroke-width="1.3"/><polygon points="592.98,113.16 587.22,109.96 587.22,116.36" fill="#00CBCC"/><g transform="translate(609.80,118.06)" fill="none" stroke="#111" stroke-linecap="round"><path d="M0.3,-5.0 C0.6,-6.4 1.5,-7.1 2.3,-6.0 L5.3,1.3 C5.7,2.2 6.4,2.0 6.9,0.9" stroke-width="1.25"/><path d="M6.3,-6.8 L1.0,2.9" stroke-width="0.75"/></g><path d="M617.30,111.76H624.90M617.30,114.76H624.90" stroke="#262626" stroke-width="1.0" fill="none"/><text x="625.20" y="118.06" font-family="Liberation Serif, serif" font-size="14" fill="#000"><tspan fill="#333">–</tspan>0.4</text>
<line x1="573.00" y1="132.42" x2="605.60" y2="132.42" stroke="#7D4E4E" stroke-width="1.3"/><polygon points="592.50,132.42 590.90,135.19 587.70,135.19 586.10,132.42 587.70,129.65 590.90,129.65" fill="#7D4E4E"/><g transform="translate(609.80,137.32)" fill="none" stroke="#111" stroke-linecap="round"><path d="M0.3,-5.0 C0.6,-6.4 1.5,-7.1 2.3,-6.0 L5.3,1.3 C5.7,2.2 6.4,2.0 6.9,0.9" stroke-width="1.25"/><path d="M6.3,-6.8 L1.0,2.9" stroke-width="0.75"/></g><path d="M617.30,131.02H624.90M617.30,134.02H624.90" stroke="#262626" stroke-width="1.0" fill="none"/><text x="625.20" y="137.32" font-family="Liberation Serif, serif" font-size="14" fill="#000"><tspan fill="#333">–</tspan>0.3</text>
<line x1="573.00" y1="151.68" x2="605.60" y2="151.68" stroke="#8E8E00" stroke-width="1.3"/><polygon points="589.30,147.68 590.24,150.39 593.10,150.44 590.82,152.17 591.65,154.92 589.30,153.28 586.95,154.92 587.78,152.17 585.50,150.44 588.36,150.39" fill="#8E8E00"/><g transform="translate(609.80,156.58)" fill="none" stroke="#111" stroke-linecap="round"><path d="M0.3,-5.0 C0.6,-6.4 1.5,-7.1 2.3,-6.0 L5.3,1.3 C5.7,2.2 6.4,2.0 6.9,0.9" stroke-width="1.25"/><path d="M6.3,-6.8 L1.0,2.9" stroke-width="0.75"/></g><path d="M617.30,150.28H624.90M617.30,153.28H624.90" stroke="#262626" stroke-width="1.0" fill="none"/><text x="625.20" y="156.58" font-family="Liberation Serif, serif" font-size="14" fill="#000"><tspan fill="#333">–</tspan>0.2</text>
<line x1="573.00" y1="170.94" x2="605.60" y2="170.94" stroke="#FB6501" stroke-width="1.3"/><polygon points="589.30,167.42 592.65,169.85 591.37,173.79 587.23,173.79 585.95,169.85" fill="#FB6501"/><g transform="translate(609.80,175.84)" fill="none" stroke="#111" stroke-linecap="round"><path d="M0.3,-5.0 C0.6,-6.4 1.5,-7.1 2.3,-6.0 L5.3,1.3 C5.7,2.2 6.4,2.0 6.9,0.9" stroke-width="1.25"/><path d="M6.3,-6.8 L1.0,2.9" stroke-width="0.75"/></g><path d="M617.30,169.54H624.90M617.30,172.54H624.90" stroke="#262626" stroke-width="1.0" fill="none"/><text x="625.20" y="175.84" font-family="Liberation Serif, serif" font-size="14" fill="#000"><tspan fill="#333">–</tspan>0.1</text>
<line x1="573.00" y1="190.20" x2="605.60" y2="190.20" stroke="#6699CC" stroke-width="1.3"/><path d="M586.42 190.20H592.18M589.30 187.32V193.08" stroke="#7AA3D6" stroke-width="0.8" fill="none"/><g transform="translate(609.80,195.10)" fill="none" stroke="#111" stroke-linecap="round"><path d="M0.3,-5.0 C0.6,-6.4 1.5,-7.1 2.3,-6.0 L5.3,1.3 C5.7,2.2 6.4,2.0 6.9,0.9" stroke-width="1.25"/><path d="M6.3,-6.8 L1.0,2.9" stroke-width="0.75"/></g><path d="M617.30,188.80H624.90M617.30,191.80H624.90" stroke="#262626" stroke-width="1.0" fill="none"/><text x="625.20" y="195.10" font-family="Liberation Serif, serif" font-size="14" fill="#000">0(1e-6)</text><text x="164.8" y="292.3" font-family="Liberation Serif, serif" font-size="18" text-anchor="middle">(a) Circular pile</text><text x="521" y="292.3" font-family="Liberation Serif, serif" font-size="18" text-anchor="middle">(b) Plum blossom pile</text></svg>
</body></html>
